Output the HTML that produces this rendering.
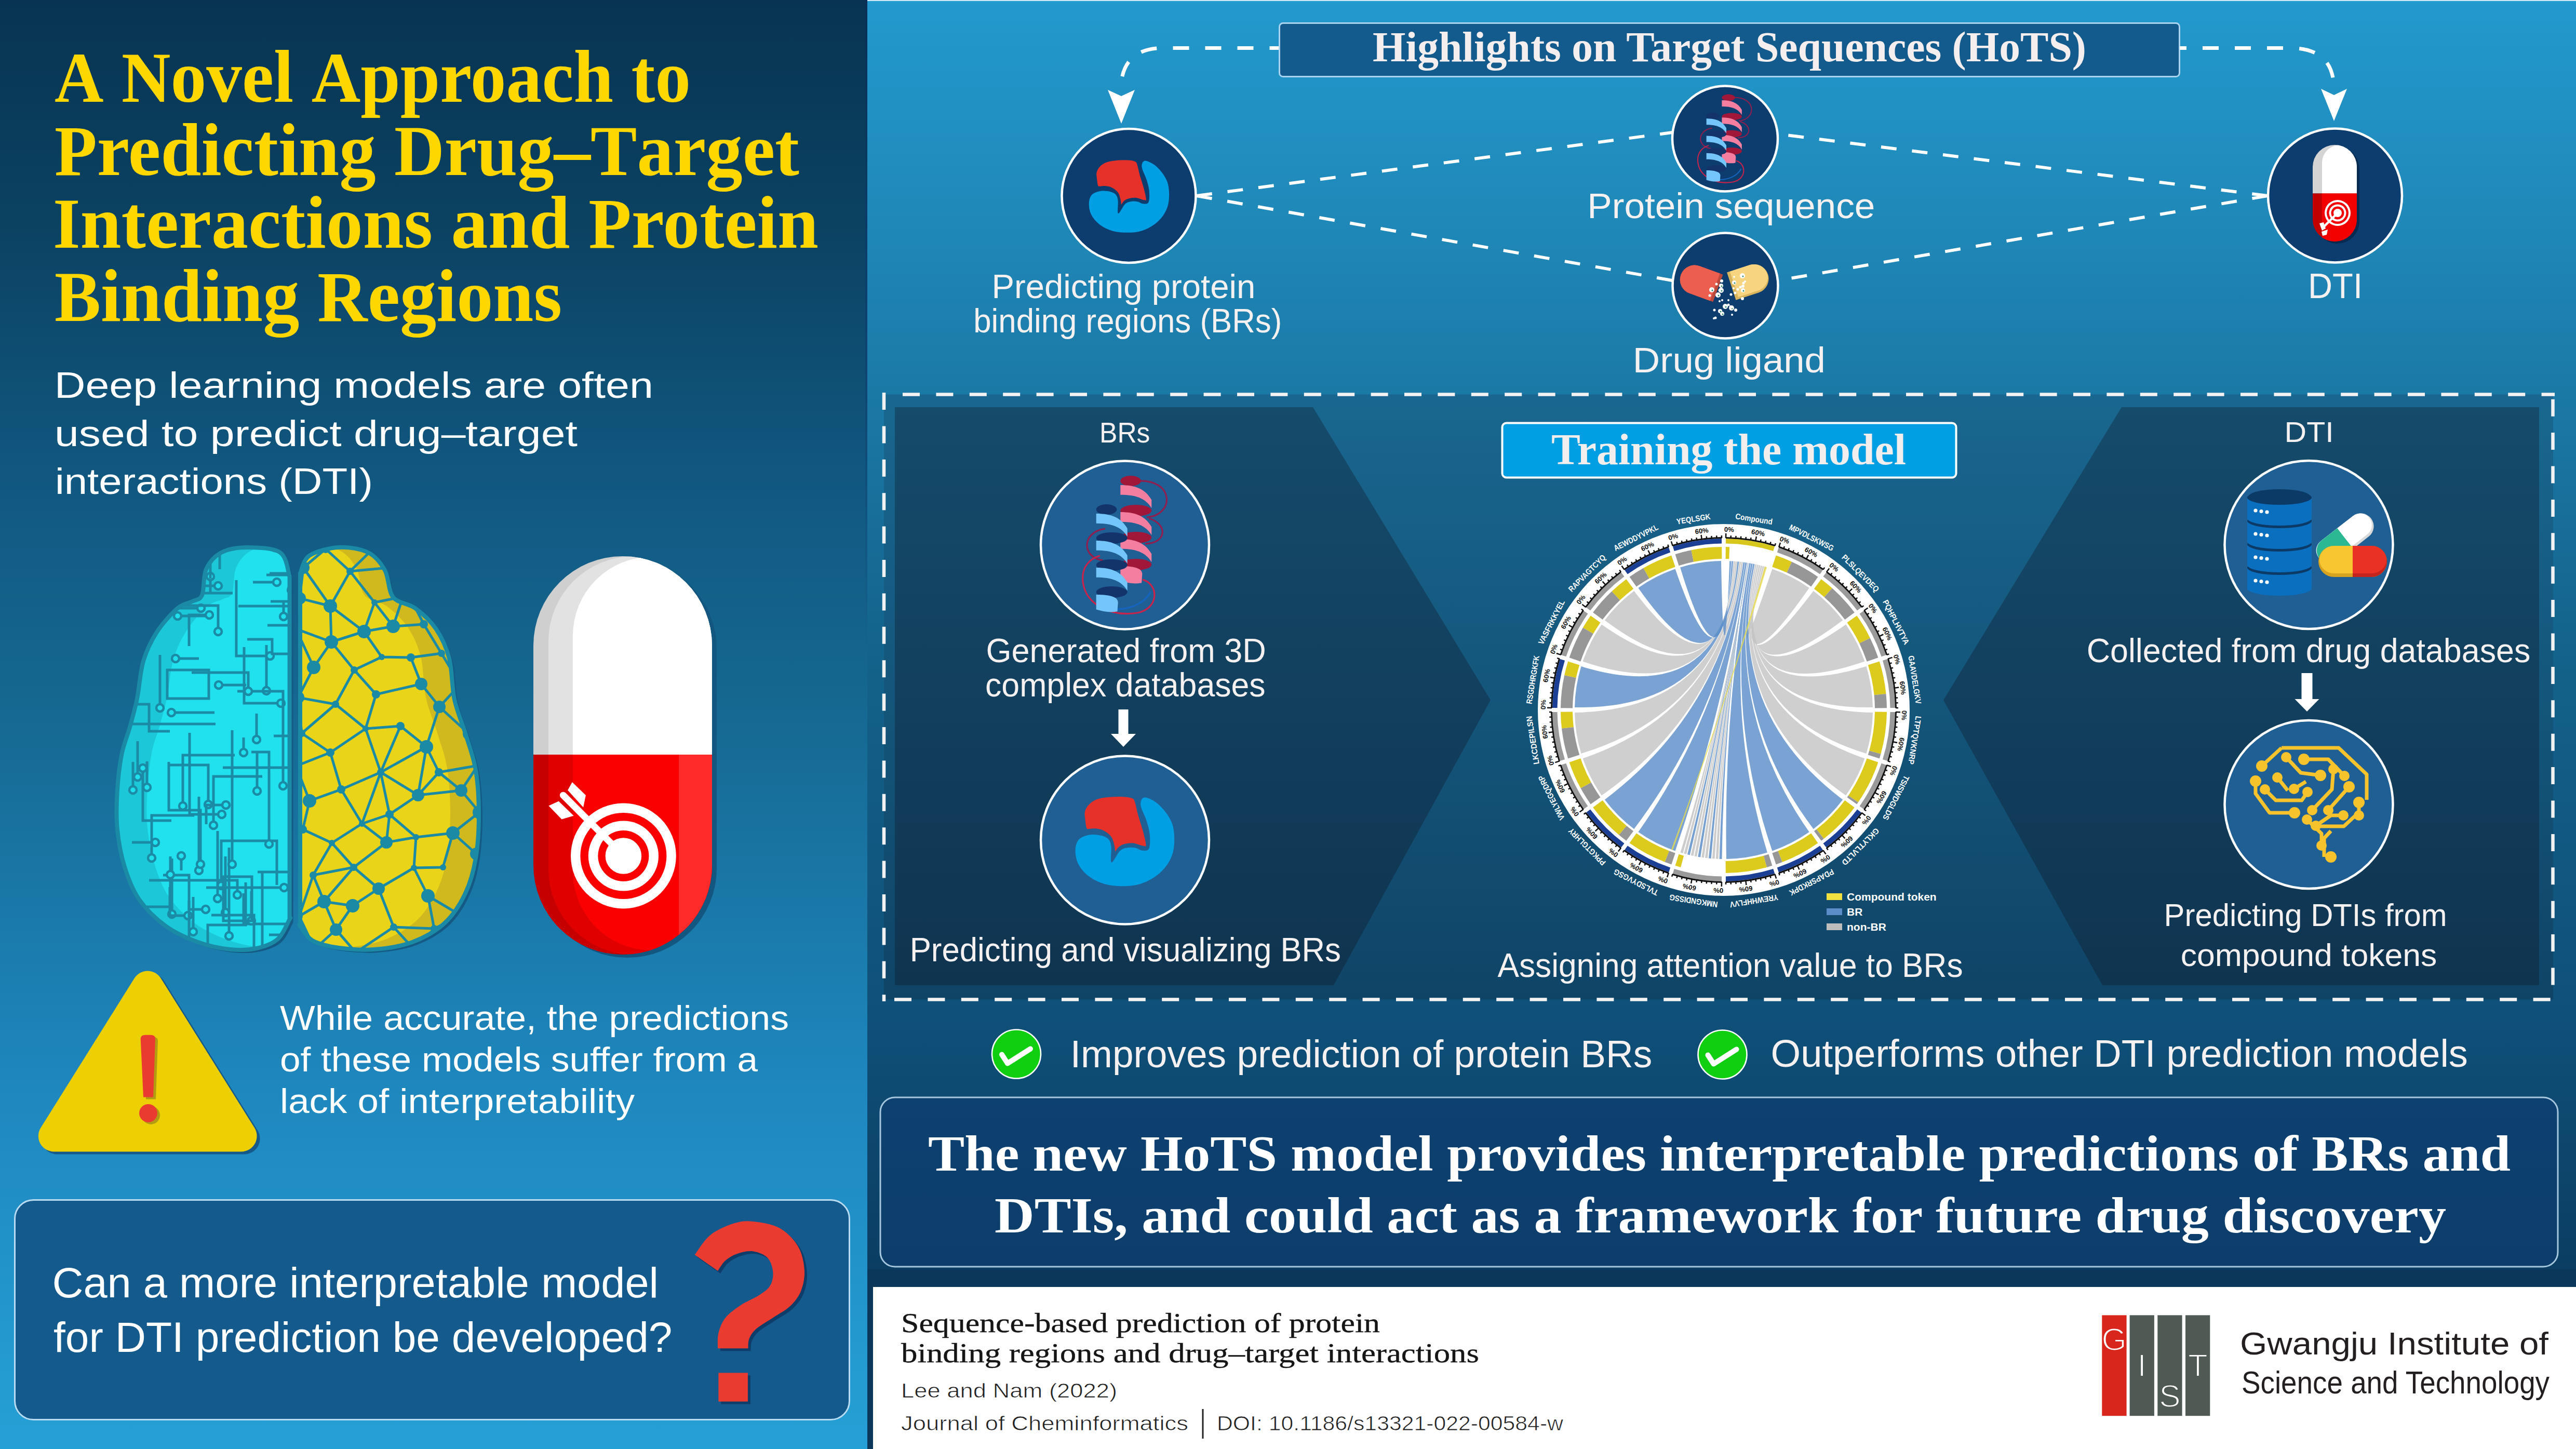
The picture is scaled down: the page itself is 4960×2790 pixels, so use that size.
<!DOCTYPE html>
<html><head><meta charset="utf-8"><title>HoTS infographic</title>
<style>html,body{margin:0;padding:0;background:#0a3454;}body{width:4960px;height:2790px;overflow:hidden}svg{display:block}</style>
</head><body>
<svg width="4960" height="2790" viewBox="0 0 4960 2790">
<defs>
<linearGradient id="gLeft" x1="0" y1="0" x2="0" y2="2790" gradientUnits="userSpaceOnUse">
 <stop offset="0" stop-color="#083452"/>
 <stop offset="0.154" stop-color="#0b4262"/>
 <stop offset="0.358" stop-color="#125b85"/>
 <stop offset="0.477" stop-color="#15678f"/>
 <stop offset="0.75" stop-color="#1e87be"/>
 <stop offset="1" stop-color="#25a0d6"/>
</linearGradient>
<linearGradient id="gStrip" x1="0" y1="0" x2="0" y2="2790" gradientUnits="userSpaceOnUse">
 <stop offset="0" stop-color="#0a2c58" stop-opacity="0.6"/>
 <stop offset="0.2" stop-color="#0c3a6c" stop-opacity="0.6"/>
 <stop offset="0.45" stop-color="#0c3a6c" stop-opacity="0"/>
 <stop offset="1" stop-color="#0c3a6c" stop-opacity="0"/>
</linearGradient>
<linearGradient id="gRight" x1="0" y1="0" x2="0" y2="2790" gradientUnits="userSpaceOnUse">
 <stop offset="0" stop-color="#2399cd"/>
 <stop offset="0.155" stop-color="#1f88b8"/>
 <stop offset="0.255" stop-color="#1c7ba9"/>
 <stop offset="0.466" stop-color="#136189"/>
 <stop offset="0.70" stop-color="#0f5079"/>
 <stop offset="0.88" stop-color="#0b3d62"/>
 <stop offset="1" stop-color="#0a3556"/>
</linearGradient>
<linearGradient id="gBox" x1="0" y1="756" x2="0" y2="1928" gradientUnits="userSpaceOnUse">
 <stop offset="0" stop-color="#196790"/>
 <stop offset="1" stop-color="#0f4466"/>
</linearGradient>
<linearGradient id="gChev" x1="0" y1="784" x2="0" y2="1898" gradientUnits="userSpaceOnUse">
 <stop offset="0" stop-color="#154b6b"/>
 <stop offset="1" stop-color="#0f3450"/>
</linearGradient>
<linearGradient id="gConc" x1="0" y1="2112" x2="0" y2="2440" gradientUnits="userSpaceOnUse">
 <stop offset="0" stop-color="#0d4171"/>
 <stop offset="1" stop-color="#0d3d6b"/>
</linearGradient>
</defs>
<rect x="0" y="0" width="1670" height="2790" fill="url(#gLeft)"/>
<rect x="1670" y="0" width="3290" height="2790" fill="url(#gRight)"/>
<rect x="1666" y="0" width="4" height="2790" fill="url(#gStrip)"/>
<rect x="1670" y="0" width="3290" height="2" fill="#cfe9f5"/>
<rect x="1670" y="2444" width="3290" height="346" fill="#0b385a"/>
<rect x="1681" y="2478" width="3279" height="312" fill="#ffffff"/>
<rect x="1702" y="759.5" width="3214" height="1165" fill="url(#gBox)"/>
<polygon points="1723,784 2528,784 2870,1348 2568,1897 1723,1897" fill="url(#gChev)"/>
<polygon points="4085,784 3742,1348 4048,1897 4889,1897 4889,784" fill="url(#gChev)"/>
<line x1="1738" y1="759.5" x2="4919" y2="759.5" stroke="#f2f2f2" stroke-width="6.5" stroke-dasharray="33 31.4"/>
<line x1="1702" y1="756" x2="1702" y2="1928" stroke="#f2f2f2" stroke-width="6.5" stroke-dasharray="33 31.4"/>
<line x1="4915.5" y1="768.7" x2="4915.5" y2="1928" stroke="#f2f2f2" stroke-width="6.5" stroke-dasharray="33 31.4"/>
<line x1="1722" y1="1924.5" x2="4919" y2="1924.5" stroke="#f2f2f2" stroke-width="6.5" stroke-dasharray="33 31.4"/>
<text x="105" y="196" font-family="'Liberation Serif', serif" font-size="144" font-weight="bold" fill="#ffd700" textLength="1225" lengthAdjust="spacingAndGlyphs"><tspan font-size="137">A</tspan> <tspan font-size="137">N</tspan>ovel <tspan font-size="137">A</tspan>pproach to</text>
<text x="105" y="337" font-family="'Liberation Serif', serif" font-size="144" font-weight="bold" fill="#ffd700" textLength="1434" lengthAdjust="spacingAndGlyphs"><tspan font-size="137">P</tspan>redicting <tspan font-size="137">D</tspan>rug–<tspan font-size="137">T</tspan>arget</text>
<text x="102" y="477" font-family="'Liberation Serif', serif" font-size="144" font-weight="bold" fill="#ffd700" textLength="1474" lengthAdjust="spacingAndGlyphs"><tspan font-size="137">I</tspan>nteractions and <tspan font-size="137">P</tspan>rotein</text>
<text x="105" y="618" font-family="'Liberation Serif', serif" font-size="144" font-weight="bold" fill="#ffd700" textLength="977" lengthAdjust="spacingAndGlyphs"><tspan font-size="137">B</tspan>inding <tspan font-size="137">R</tspan>egions</text>
<text x="104.7" y="766.0" font-family="'Liberation Sans', sans-serif" font-size="71" font-weight="normal" fill="#ffffff" text-anchor="start" textLength="1153.3" lengthAdjust="spacingAndGlyphs" >Deep learning models are often</text>
<text x="105.0" y="859.0" font-family="'Liberation Sans', sans-serif" font-size="71" font-weight="normal" fill="#ffffff" text-anchor="start" textLength="1007.0" lengthAdjust="spacingAndGlyphs" >used to predict drug–target</text>
<text x="106.0" y="951.0" font-family="'Liberation Sans', sans-serif" font-size="71" font-weight="normal" fill="#ffffff" text-anchor="start" textLength="612.0" lengthAdjust="spacingAndGlyphs" >interactions (DTI)</text>
<text x="539.0" y="1983.0" font-family="'Liberation Sans', sans-serif" font-size="67" font-weight="normal" fill="#ffffff" text-anchor="start" textLength="980.0" lengthAdjust="spacingAndGlyphs" >While accurate, the predictions</text>
<text x="539.0" y="2063.0" font-family="'Liberation Sans', sans-serif" font-size="67" font-weight="normal" fill="#ffffff" text-anchor="start" textLength="920.0" lengthAdjust="spacingAndGlyphs" >of these models suffer from a</text>
<text x="539.0" y="2143.0" font-family="'Liberation Sans', sans-serif" font-size="67" font-weight="normal" fill="#ffffff" text-anchor="start" textLength="683.0" lengthAdjust="spacingAndGlyphs" >lack of interpretability</text>
<rect x="28.5" y="2310.5" width="1607" height="423" rx="36" fill="#155a8d" stroke="#b9dcf2" stroke-width="3"/>
<text x="100.5" y="2498.0" font-family="'Liberation Sans', sans-serif" font-size="81" font-weight="normal" fill="#ffffff" text-anchor="start" textLength="1167.5" lengthAdjust="spacingAndGlyphs" >Can a more interpretable model</text>
<text x="103.0" y="2603.0" font-family="'Liberation Sans', sans-serif" font-size="81" font-weight="normal" fill="#ffffff" text-anchor="start" textLength="1191.5" lengthAdjust="spacingAndGlyphs" >for DTI prediction be developed?</text>
<rect x="2463.5" y="44.5" width="1733" height="103" rx="7" fill="#135b8d" stroke="#a9d3ee" stroke-width="3"/>
<text x="2643.0" y="118.0" font-family="'Liberation Serif', serif" font-size="82" font-weight="bold" fill="#f4eeee" text-anchor="start" textLength="1374.0" lengthAdjust="spacingAndGlyphs" >Highlights on Target Sequences (HoTS)</text>
<text x="1909.4" y="573.8" font-family="'Liberation Sans', sans-serif" font-size="64" font-weight="normal" fill="#f6f1f1" text-anchor="start" textLength="507.9" lengthAdjust="spacingAndGlyphs" >Predicting protein</text>
<text x="1874.2" y="640.4" font-family="'Liberation Sans', sans-serif" font-size="64" font-weight="normal" fill="#f6f1f1" text-anchor="start" textLength="594.1" lengthAdjust="spacingAndGlyphs" >binding regions (BRs)</text>
<text x="3056.2" y="420.0" font-family="'Liberation Sans', sans-serif" font-size="68" font-weight="normal" fill="#f6f1f1" text-anchor="start" textLength="554.2" lengthAdjust="spacingAndGlyphs" >Protein sequence</text>
<text x="3143.8" y="716.8" font-family="'Liberation Sans', sans-serif" font-size="69" font-weight="normal" fill="#f6f1f1" text-anchor="start" textLength="371.2" lengthAdjust="spacingAndGlyphs" >Drug ligand</text>
<text x="4444.0" y="574.0" font-family="'Liberation Sans', sans-serif" font-size="68" font-weight="normal" fill="#f6f1f1" text-anchor="start" textLength="105.0" lengthAdjust="spacingAndGlyphs" >DTI</text>
<text x="2117.0" y="852.0" font-family="'Liberation Sans', sans-serif" font-size="55" font-weight="normal" fill="#f6f1f1" text-anchor="start" textLength="97.4" lengthAdjust="spacingAndGlyphs" >BRs</text>
<text x="4398.6" y="851.2" font-family="'Liberation Sans', sans-serif" font-size="55" font-weight="normal" fill="#f6f1f1" text-anchor="start" textLength="95.1" lengthAdjust="spacingAndGlyphs" >DTI</text>
<text x="1898.4" y="1275.4" font-family="'Liberation Sans', sans-serif" font-size="65" font-weight="normal" fill="#f6f1f1" text-anchor="start" textLength="539.4" lengthAdjust="spacingAndGlyphs" >Generated from 3D</text>
<text x="1897.0" y="1340.7" font-family="'Liberation Sans', sans-serif" font-size="65" font-weight="normal" fill="#f6f1f1" text-anchor="start" textLength="539.7" lengthAdjust="spacingAndGlyphs" >complex databases</text>
<text x="1751.7" y="1850.7" font-family="'Liberation Sans', sans-serif" font-size="64" font-weight="normal" fill="#f6f1f1" text-anchor="start" textLength="830.3" lengthAdjust="spacingAndGlyphs" >Predicting and visualizing BRs</text>
<text x="2883.4" y="1880.7" font-family="'Liberation Sans', sans-serif" font-size="64" font-weight="normal" fill="#f6f1f1" text-anchor="start" textLength="896.3" lengthAdjust="spacingAndGlyphs" >Assigning attention value to BRs</text>
<text x="4017.7" y="1274.7" font-family="'Liberation Sans', sans-serif" font-size="64" font-weight="normal" fill="#f6f1f1" text-anchor="start" textLength="854.6" lengthAdjust="spacingAndGlyphs" >Collected from drug databases</text>
<text x="4166.6" y="1782.8" font-family="'Liberation Sans', sans-serif" font-size="62" font-weight="normal" fill="#f6f1f1" text-anchor="start" textLength="545.0" lengthAdjust="spacingAndGlyphs" >Predicting DTIs from</text>
<text x="4198.7" y="1859.8" font-family="'Liberation Sans', sans-serif" font-size="62" font-weight="normal" fill="#f6f1f1" text-anchor="start" textLength="493.7" lengthAdjust="spacingAndGlyphs" >compound tokens</text>
<text x="2060.8" y="2055.0" font-family="'Liberation Sans', sans-serif" font-size="75" font-weight="normal" fill="#f6f1f1" text-anchor="start" textLength="1120.4" lengthAdjust="spacingAndGlyphs" >Improves prediction of protein BRs</text>
<text x="3409.6" y="2054.0" font-family="'Liberation Sans', sans-serif" font-size="75" font-weight="normal" fill="#f6f1f1" text-anchor="start" textLength="1342.3" lengthAdjust="spacingAndGlyphs" >Outperforms other DTI prediction models</text>
<rect x="2892.5" y="814.5" width="874" height="105" rx="8" fill="#009fe3" stroke="#ffffff" stroke-width="4"/>
<text x="2987.0" y="893.6" font-family="'Liberation Serif', serif" font-size="84" font-weight="bold" fill="#f3eeee" text-anchor="start" textLength="683.0" lengthAdjust="spacingAndGlyphs" >Training the model</text>
<rect x="1695" y="2113" width="3230" height="326" rx="28" fill="url(#gConc)" stroke="#a6c6dd" stroke-width="3"/>
<text x="1787.0" y="2254.0" font-family="'Liberation Serif', serif" font-size="98" font-weight="bold" fill="#ffffff" text-anchor="start" textLength="3047.0" lengthAdjust="spacingAndGlyphs" >The new HoTS model provides interpretable predictions of BRs and</text>
<text x="1915.0" y="2373.0" font-family="'Liberation Serif', serif" font-size="98" font-weight="bold" fill="#ffffff" text-anchor="start" textLength="2795.0" lengthAdjust="spacingAndGlyphs" >DTIs, and could act as a framework for future drug discovery</text>
<text x="1735.0" y="2565.0" font-family="'Liberation Serif', serif" font-size="53" font-weight="normal" fill="#161616" text-anchor="start" textLength="922.0" lengthAdjust="spacingAndGlyphs" stroke="#161616" stroke-width="0.4">Sequence-based prediction of protein</text>
<text x="1735.0" y="2623.4" font-family="'Liberation Serif', serif" font-size="53" font-weight="normal" fill="#161616" text-anchor="start" textLength="1113.0" lengthAdjust="spacingAndGlyphs" stroke="#161616" stroke-width="0.4">binding regions and drug–target interactions</text>
<text x="1735.0" y="2691.0" font-family="'Liberation Sans', sans-serif" font-size="38" font-weight="normal" fill="#1e1e1e" text-anchor="start" textLength="416.0" lengthAdjust="spacingAndGlyphs" stroke="#ffffff" stroke-width="0.7">Lee and Nam (2022)</text>
<text x="1735.0" y="2754.0" font-family="'Liberation Sans', sans-serif" font-size="38" font-weight="normal" fill="#1e1e1e" text-anchor="start" textLength="553.0" lengthAdjust="spacingAndGlyphs" stroke="#ffffff" stroke-width="0.7">Journal of Cheminformatics</text>
<rect x="2314.5" y="2713" width="3" height="57" fill="#222"/>
<text x="2343.0" y="2754.0" font-family="'Liberation Sans', sans-serif" font-size="38" font-weight="normal" fill="#1e1e1e" text-anchor="start" textLength="667.0" lengthAdjust="spacingAndGlyphs" stroke="#ffffff" stroke-width="0.7">DOI: 10.1186/s13321-022-00584-w</text>
<rect x="4047.3" y="2532.4" width="47.3" height="193.8" fill="#d9261c"/>
<rect x="4100.6" y="2532.4" width="47.3" height="193.8" fill="#4e5a53"/>
<rect x="4154.3" y="2532.4" width="47.3" height="193.8" fill="#4e5a53"/>
<rect x="4208" y="2532.4" width="47.3" height="193.8" fill="#4e5a53"/>
<text x="4070.6" y="2600.0" font-family="'Liberation Sans', sans-serif" font-size="62" font-weight="normal" fill="#fff" text-anchor="middle" stroke="#d9261c" stroke-width="2">G</text>
<text x="4124.0" y="2650.0" font-family="'Liberation Sans', sans-serif" font-size="62" font-weight="normal" fill="#fff" text-anchor="middle" stroke="#4e5a53" stroke-width="2">I</text>
<text x="4178.0" y="2709.0" font-family="'Liberation Sans', sans-serif" font-size="62" font-weight="normal" fill="#fff" text-anchor="middle" stroke="#4e5a53" stroke-width="2">S</text>
<text x="4232.0" y="2650.0" font-family="'Liberation Sans', sans-serif" font-size="62" font-weight="normal" fill="#fff" text-anchor="middle" stroke="#4e5a53" stroke-width="2">T</text>
<text x="4313.0" y="2608.0" font-family="'Liberation Sans', sans-serif" font-size="62" font-weight="normal" fill="#231f20" text-anchor="start" textLength="594.0" lengthAdjust="spacingAndGlyphs" >Gwangju Institute of</text>
<text x="4316.0" y="2682.6" font-family="'Liberation Sans', sans-serif" font-size="62" font-weight="normal" fill="#231f20" text-anchor="start" textLength="593.0" lengthAdjust="spacingAndGlyphs" >Science and Technology</text>
<path d="M2462,92.5 H2240 Q2158,92.5 2158,175" stroke="#ffffff" stroke-width="7" fill="none" stroke-dasharray="31 31" stroke-dashoffset="13.5"/>
<path d="M4197,92.5 H4410 Q4494,92.5 4494,172" stroke="#ffffff" stroke-width="7" fill="none" stroke-dasharray="31 31" stroke-dashoffset="18"/>
<polygon points="2133,173 2159,185 2185,173 2159,238" fill="#fff"/>
<polygon points="4469,171 4494,183 4519,171 4494,233" fill="#fff"/>
<line x1="2304" y1="377" x2="3220" y2="255" stroke="#ffffff" stroke-width="6" fill="none" stroke-dasharray="30 30"/>
<line x1="2304" y1="377" x2="3220" y2="540" stroke="#ffffff" stroke-width="6" fill="none" stroke-dasharray="30 30"/>
<line x1="4366" y1="377" x2="3424" y2="258" stroke="#ffffff" stroke-width="6" fill="none" stroke-dasharray="30 30"/>
<line x1="4366" y1="377" x2="3424" y2="540" stroke="#ffffff" stroke-width="6" fill="none" stroke-dasharray="30 30"/>
<circle cx="2173.5" cy="377" r="129" fill="#0d3d6e" stroke="#ffffff" stroke-width="4.5"/>
<circle cx="3321.5" cy="267" r="101.5" fill="#0d3d6e" stroke="#ffffff" stroke-width="4.5"/>
<circle cx="3322" cy="550" r="101.5" fill="#0d3d6e" stroke="#ffffff" stroke-width="4.5"/>
<circle cx="4496" cy="376.5" r="129" fill="#0d3d6e" stroke="#ffffff" stroke-width="4.5"/>
<circle cx="2166" cy="1049.5" r="162" fill="#1f5f94" stroke="#ffffff" stroke-width="4.5"/>
<circle cx="2166" cy="1617.5" r="162" fill="#1f5f94" stroke="#ffffff" stroke-width="4.5"/>
<circle cx="4445.5" cy="1049" r="162" fill="#1f5f94" stroke="#ffffff" stroke-width="4.5"/>
<circle cx="4445.5" cy="1549" r="162" fill="#1f5f94" stroke="#ffffff" stroke-width="4.5"/>
<polygon points="2153.5,1366 2172.5,1366 2172.5,1413 2187.0,1413 2163,1438 2139.0,1413 2153.5,1413" fill="#ffffff"/>
<polygon points="4431.5,1296 4452.5,1296 4452.5,1346 4465.5,1346 4442,1370 4418.5,1346 4431.5,1346" fill="#ffffff"/>
<circle cx="1957" cy="2029.5" r="47" fill="#10cf10" stroke="#ffffff" stroke-width="2.6"/>
<path d="M1929,2030.5 L1940,2047.5 L1984,2019.5" stroke="#ffffff" stroke-width="10" fill="none" stroke-linecap="round" stroke-linejoin="round"/>
<circle cx="3316.5" cy="2030.5" r="47" fill="#10cf10" stroke="#ffffff" stroke-width="2.6"/>
<path d="M3288.5,2031.5 L3299.5,2048.5 L3343.5,2020.5" stroke="#ffffff" stroke-width="10" fill="none" stroke-linecap="round" stroke-linejoin="round"/>
<rect x="1036" y="1077" width="344" height="767" rx="172.0" fill="#135780"/>
<clipPath id="pillclip"><rect x="1027" y="1071" width="344" height="767" rx="172.0"/></clipPath>
<clipPath id="ptop"><rect x="1017" y="1061" width="364" height="392"/></clipPath>
<clipPath id="pbot"><rect x="1017" y="1453" width="364" height="395"/></clipPath>
<g clip-path="url(#pillclip)"><g clip-path="url(#ptop)">
<rect x="1027" y="1071" width="344" height="767" fill="#cfcfcf"/>
<rect x="1056" y="1071" width="384" height="767" rx="164.0" fill="#e2e2e2"/>
<rect x="1103" y="1072" width="384" height="767" rx="152.0" fill="#ffffff"/>
</g><g clip-path="url(#pbot)">
<rect x="1027" y="1453" width="344" height="385" fill="#c60000"/>
<rect x="1056" y="1053" width="384" height="785" rx="164.0" fill="#e00000"/>
<rect x="1103" y="1053" width="384" height="777" rx="152.0" fill="#fb0000"/>
<rect x="1307" y="1453" width="64" height="385" fill="#ff2b2b"/>
</g></g>
<circle cx="1200.4" cy="1648" r="101.4" fill="#fff"/>
<circle cx="1200.4" cy="1648" r="83" fill="#fb0000"/>
<circle cx="1200.4" cy="1648" r="67.6" fill="#fff"/>
<circle cx="1200.4" cy="1648" r="49" fill="#fb0000"/>
<circle cx="1200.4" cy="1648" r="34.8" fill="#fff"/>
<line x1="1180" y1="1627" x2="1084.4" y2="1531.2" stroke="#ffffff" stroke-width="13" stroke-linecap="round"/>
<polygon points="1093.1,1521.5 1101.8,1506.1 1127.9,1531.2 1123.1,1554.4" fill="#ffffff"/>
<polygon points="1056.4,1551.5 1075.7,1542.8 1104.7,1570.8 1081.5,1577.6" fill="#ffffff"/>
<path d="M315.6,1888.6 A30,30 0 0 0 264.8,1888.6 L84.4,2176.5 A30,30 0 0 0 109.8,2222.4 L470.6,2222.4 A30,30 0 0 0 496.0,2176.5 Z" fill="#15598a"/>
<path d="M309.6,1883.6 A30,30 0 0 0 258.8,1883.6 L78.4,2171.5 A30,30 0 0 0 103.8,2217.4 L464.6,2217.4 A30,30 0 0 0 490.0,2171.5 Z" fill="#ecd003"/>
<path d="M270.7,2000 Q271,1992.7 280,1992.7 L290,1992.7 Q299,1992.7 299,2000 L295,2112.4 L276,2112.4 Z" fill="#b39b12" transform="translate(5,4)"/>
<circle cx="290.5" cy="2147.4" r="17.5" fill="#b39b12"/>
<path d="M270.7,2000 Q271,1992.7 280,1992.7 L290,1992.7 Q299,1992.7 299,2000 L295,2112.4 L276,2112.4 Z" fill="#ea3b30"/>
<circle cx="285.5" cy="2143.4" r="17.5" fill="#ea3b30"/>
<path d="M1337.7,2416.1 C1342.6,2409.8 1354.8,2388.5 1367.3,2378.4 C1379.8,2368.3 1399.1,2360.0 1413.0,2355.6 C1426.9,2351.2 1435.9,2350.4 1450.7,2352.0 C1465.5,2353.6 1487.5,2357.0 1501.8,2365.0 C1516.1,2373.0 1528.8,2386.6 1536.7,2400.0 C1544.6,2413.4 1548.0,2431.4 1548.9,2445.7 C1549.8,2460.0 1546.8,2474.3 1542.1,2486.0 C1537.4,2497.7 1529.6,2507.1 1520.6,2515.6 C1511.6,2524.1 1499.1,2530.0 1488.3,2537.2 C1477.5,2544.4 1463.6,2552.0 1456.0,2558.7 C1448.4,2565.4 1445.2,2571.2 1442.6,2577.5 C1440.0,2583.8 1440.8,2593.2 1440.5,2596.3 L1382,2596.3 C1382.2,2591.4 1380.9,2576.5 1383.4,2566.7 C1385.9,2556.8 1389.7,2546.1 1396.9,2537.2 C1404.1,2528.2 1415.7,2520.2 1426.4,2513.0 C1437.2,2505.8 1452.0,2500.4 1461.4,2494.1 C1470.8,2487.8 1478.5,2482.9 1483.0,2475.3 C1487.5,2467.7 1489.2,2457.4 1488.3,2448.4 C1487.4,2439.4 1483.9,2428.0 1477.6,2421.5 C1471.3,2415.0 1460.1,2410.8 1450.7,2409.4 C1441.3,2408.1 1430.0,2410.5 1421.0,2413.4 C1412.0,2416.3 1403.4,2421.3 1396.9,2426.9 C1390.4,2432.5 1384.5,2443.7 1382.0,2447.0 Z" fill="#0f3d6a" transform="translate(5,5)"/>
<rect x="1388.4" y="2648.4" width="56.5" height="55.2" fill="#0f3d6a"/>
<path d="M1337.7,2416.1 C1342.6,2409.8 1354.8,2388.5 1367.3,2378.4 C1379.8,2368.3 1399.1,2360.0 1413.0,2355.6 C1426.9,2351.2 1435.9,2350.4 1450.7,2352.0 C1465.5,2353.6 1487.5,2357.0 1501.8,2365.0 C1516.1,2373.0 1528.8,2386.6 1536.7,2400.0 C1544.6,2413.4 1548.0,2431.4 1548.9,2445.7 C1549.8,2460.0 1546.8,2474.3 1542.1,2486.0 C1537.4,2497.7 1529.6,2507.1 1520.6,2515.6 C1511.6,2524.1 1499.1,2530.0 1488.3,2537.2 C1477.5,2544.4 1463.6,2552.0 1456.0,2558.7 C1448.4,2565.4 1445.2,2571.2 1442.6,2577.5 C1440.0,2583.8 1440.8,2593.2 1440.5,2596.3 L1382,2596.3 C1382.2,2591.4 1380.9,2576.5 1383.4,2566.7 C1385.9,2556.8 1389.7,2546.1 1396.9,2537.2 C1404.1,2528.2 1415.7,2520.2 1426.4,2513.0 C1437.2,2505.8 1452.0,2500.4 1461.4,2494.1 C1470.8,2487.8 1478.5,2482.9 1483.0,2475.3 C1487.5,2467.7 1489.2,2457.4 1488.3,2448.4 C1487.4,2439.4 1483.9,2428.0 1477.6,2421.5 C1471.3,2415.0 1460.1,2410.8 1450.7,2409.4 C1441.3,2408.1 1430.0,2410.5 1421.0,2413.4 C1412.0,2416.3 1403.4,2421.3 1396.9,2426.9 C1390.4,2432.5 1384.5,2443.7 1382.0,2447.0 Z" fill="#ea3b30"/>
<rect x="1383.4" y="2643.4" width="56.5" height="55.2" fill="#ea3b30"/>
<clipPath id="clipL"><path d="M557.6,1110.0 C554.6,1102.3 552.9,1073.3 539.5,1064.0 C526.1,1054.7 495.9,1054.0 477.0,1054.0 C458.1,1054.0 439.3,1057.0 426.0,1064.0 C412.7,1071.0 403.2,1082.3 397.0,1096.0 C390.8,1109.7 393.5,1135.7 389.0,1146.0 C384.5,1156.3 377.9,1153.8 370.0,1158.0 C362.1,1162.2 352.8,1161.7 341.5,1171.5 C330.2,1181.3 312.9,1200.1 302.0,1217.0 C291.1,1233.9 282.3,1251.7 276.0,1273.0 C269.7,1294.3 268.3,1323.8 264.0,1345.0 C259.7,1366.2 255.0,1381.8 250.0,1400.0 C245.0,1418.2 238.1,1432.7 234.0,1454.0 C229.9,1475.3 226.8,1504.0 225.5,1528.0 C224.2,1552.0 223.6,1574.4 226.0,1598.0 C228.4,1621.6 233.0,1647.2 240.0,1669.5 C247.0,1691.8 254.8,1713.1 268.0,1732.0 C281.2,1750.9 300.2,1769.3 319.0,1783.0 C337.8,1796.7 360.3,1806.5 381.0,1814.0 C401.7,1821.5 424.2,1826.0 443.0,1828.0 C461.8,1830.0 478.7,1829.3 494.0,1826.0 C509.3,1822.7 524.4,1817.3 535.0,1808.0 C545.6,1798.7 553.8,1776.3 557.6,1770.0 C561.4,1763.7 557.6,1770.0 557.6,1770.0  Z"/></clipPath><clipPath id="clipR"><path d="M578.0,1783.0 C578.0,1783.0 574.0,1778.0 578.0,1782.7 C582.0,1787.4 589.3,1804.0 601.8,1811.0 C614.2,1818.0 632.9,1822.2 652.7,1825.0 C672.5,1827.8 697.1,1829.8 720.6,1828.0 C744.1,1826.2 771.4,1822.5 794.0,1814.0 C816.6,1805.5 839.5,1792.7 856.5,1777.0 C873.5,1761.3 886.1,1740.8 896.0,1720.0 C905.9,1699.2 911.7,1677.9 916.0,1652.5 C920.3,1627.1 922.0,1595.8 922.0,1567.6 C922.0,1539.3 920.2,1508.4 916.0,1483.0 C911.8,1457.6 903.8,1437.7 897.0,1415.0 C890.2,1392.3 880.3,1371.5 875.0,1347.0 C869.7,1322.5 870.9,1290.4 865.0,1267.7 C859.1,1245.0 850.3,1227.0 839.5,1211.0 C828.7,1195.0 813.8,1181.7 800.0,1171.5 C786.2,1161.3 766.8,1162.2 757.0,1150.0 C747.2,1137.8 749.0,1112.3 741.0,1098.0 C733.0,1083.7 723.7,1071.3 709.0,1064.0 C694.3,1056.7 671.5,1053.1 652.7,1054.0 C633.9,1054.9 608.5,1061.3 596.0,1069.6 C583.5,1077.9 581.0,1098.3 578.0,1104.0  Z"/></clipPath>
<path d="M557.6,1110.0 C554.6,1102.3 552.9,1073.3 539.5,1064.0 C526.1,1054.7 495.9,1054.0 477.0,1054.0 C458.1,1054.0 439.3,1057.0 426.0,1064.0 C412.7,1071.0 403.2,1082.3 397.0,1096.0 C390.8,1109.7 393.5,1135.7 389.0,1146.0 C384.5,1156.3 377.9,1153.8 370.0,1158.0 C362.1,1162.2 352.8,1161.7 341.5,1171.5 C330.2,1181.3 312.9,1200.1 302.0,1217.0 C291.1,1233.9 282.3,1251.7 276.0,1273.0 C269.7,1294.3 268.3,1323.8 264.0,1345.0 C259.7,1366.2 255.0,1381.8 250.0,1400.0 C245.0,1418.2 238.1,1432.7 234.0,1454.0 C229.9,1475.3 226.8,1504.0 225.5,1528.0 C224.2,1552.0 223.6,1574.4 226.0,1598.0 C228.4,1621.6 233.0,1647.2 240.0,1669.5 C247.0,1691.8 254.8,1713.1 268.0,1732.0 C281.2,1750.9 300.2,1769.3 319.0,1783.0 C337.8,1796.7 360.3,1806.5 381.0,1814.0 C401.7,1821.5 424.2,1826.0 443.0,1828.0 C461.8,1830.0 478.7,1829.3 494.0,1826.0 C509.3,1822.7 524.4,1817.3 535.0,1808.0 C545.6,1798.7 553.8,1776.3 557.6,1770.0 C561.4,1763.7 557.6,1770.0 557.6,1770.0  Z" fill="#145a85" transform="translate(7,6)"/>
<path d="M578.0,1783.0 C578.0,1783.0 574.0,1778.0 578.0,1782.7 C582.0,1787.4 589.3,1804.0 601.8,1811.0 C614.2,1818.0 632.9,1822.2 652.7,1825.0 C672.5,1827.8 697.1,1829.8 720.6,1828.0 C744.1,1826.2 771.4,1822.5 794.0,1814.0 C816.6,1805.5 839.5,1792.7 856.5,1777.0 C873.5,1761.3 886.1,1740.8 896.0,1720.0 C905.9,1699.2 911.7,1677.9 916.0,1652.5 C920.3,1627.1 922.0,1595.8 922.0,1567.6 C922.0,1539.3 920.2,1508.4 916.0,1483.0 C911.8,1457.6 903.8,1437.7 897.0,1415.0 C890.2,1392.3 880.3,1371.5 875.0,1347.0 C869.7,1322.5 870.9,1290.4 865.0,1267.7 C859.1,1245.0 850.3,1227.0 839.5,1211.0 C828.7,1195.0 813.8,1181.7 800.0,1171.5 C786.2,1161.3 766.8,1162.2 757.0,1150.0 C747.2,1137.8 749.0,1112.3 741.0,1098.0 C733.0,1083.7 723.7,1071.3 709.0,1064.0 C694.3,1056.7 671.5,1053.1 652.7,1054.0 C633.9,1054.9 608.5,1061.3 596.0,1069.6 C583.5,1077.9 581.0,1098.3 578.0,1104.0  Z" fill="#145a85" transform="translate(7,6)"/>
<path d="M557.6,1110.0 C554.6,1102.3 552.9,1073.3 539.5,1064.0 C526.1,1054.7 495.9,1054.0 477.0,1054.0 C458.1,1054.0 439.3,1057.0 426.0,1064.0 C412.7,1071.0 403.2,1082.3 397.0,1096.0 C390.8,1109.7 393.5,1135.7 389.0,1146.0 C384.5,1156.3 377.9,1153.8 370.0,1158.0 C362.1,1162.2 352.8,1161.7 341.5,1171.5 C330.2,1181.3 312.9,1200.1 302.0,1217.0 C291.1,1233.9 282.3,1251.7 276.0,1273.0 C269.7,1294.3 268.3,1323.8 264.0,1345.0 C259.7,1366.2 255.0,1381.8 250.0,1400.0 C245.0,1418.2 238.1,1432.7 234.0,1454.0 C229.9,1475.3 226.8,1504.0 225.5,1528.0 C224.2,1552.0 223.6,1574.4 226.0,1598.0 C228.4,1621.6 233.0,1647.2 240.0,1669.5 C247.0,1691.8 254.8,1713.1 268.0,1732.0 C281.2,1750.9 300.2,1769.3 319.0,1783.0 C337.8,1796.7 360.3,1806.5 381.0,1814.0 C401.7,1821.5 424.2,1826.0 443.0,1828.0 C461.8,1830.0 478.7,1829.3 494.0,1826.0 C509.3,1822.7 524.4,1817.3 535.0,1808.0 C545.6,1798.7 553.8,1776.3 557.6,1770.0 C561.4,1763.7 557.6,1770.0 557.6,1770.0  Z" fill="#21e0ee"/>
<g clip-path="url(#clipL)">
<rect x="200" y="1040" width="370" height="800" fill="#1cc8d8"/>
<path d="M557.6,1110.0 C554.6,1102.3 552.9,1073.3 539.5,1064.0 C526.1,1054.7 495.9,1054.0 477.0,1054.0 C458.1,1054.0 439.3,1057.0 426.0,1064.0 C412.7,1071.0 403.2,1082.3 397.0,1096.0 C390.8,1109.7 393.5,1135.7 389.0,1146.0 C384.5,1156.3 377.9,1153.8 370.0,1158.0 C362.1,1162.2 352.8,1161.7 341.5,1171.5 C330.2,1181.3 312.9,1200.1 302.0,1217.0 C291.1,1233.9 282.3,1251.7 276.0,1273.0 C269.7,1294.3 268.3,1323.8 264.0,1345.0 C259.7,1366.2 255.0,1381.8 250.0,1400.0 C245.0,1418.2 238.1,1432.7 234.0,1454.0 C229.9,1475.3 226.8,1504.0 225.5,1528.0 C224.2,1552.0 223.6,1574.4 226.0,1598.0 C228.4,1621.6 233.0,1647.2 240.0,1669.5 C247.0,1691.8 254.8,1713.1 268.0,1732.0 C281.2,1750.9 300.2,1769.3 319.0,1783.0 C337.8,1796.7 360.3,1806.5 381.0,1814.0 C401.7,1821.5 424.2,1826.0 443.0,1828.0 C461.8,1830.0 478.7,1829.3 494.0,1826.0 C509.3,1822.7 524.4,1817.3 535.0,1808.0 C545.6,1798.7 553.8,1776.3 557.6,1770.0 C561.4,1763.7 557.6,1770.0 557.6,1770.0  Z" fill="#21e1ef" transform="translate(58,-4)"/>
<path d="M323,1473 L401,1473 L401,1549" stroke="#1a8aa5" stroke-width="5" fill="none"/>
<circle cx="401" cy="1549" r="7" fill="#21e0ee" stroke="#1a8aa5" stroke-width="4.5"/>
<path d="M527,1417 L568,1417 L639,1417 L698,1417" stroke="#1a8aa5" stroke-width="5" fill="none"/>
<circle cx="698" cy="1417" r="7" fill="#21e0ee" stroke="#1a8aa5" stroke-width="4.5"/>
<path d="M513,1242 L513,1330" stroke="#1a8aa5" stroke-width="5" fill="none"/>
<circle cx="513" cy="1330" r="7" fill="#21e0ee" stroke="#1a8aa5" stroke-width="4.5"/>
<path d="M455,1117 L455,1168 L455,1263 L520,1263" stroke="#1a8aa5" stroke-width="5" fill="none"/>
<circle cx="520" cy="1263" r="7" fill="#21e0ee" stroke="#1a8aa5" stroke-width="4.5"/>
<path d="M469,1720 L469,1779 L576,1779 L576,1679" stroke="#1a8aa5" stroke-width="5" fill="none"/>
<circle cx="576" cy="1679" r="7" fill="#21e0ee" stroke="#1a8aa5" stroke-width="4.5"/>
<path d="M280,1171 L387,1171" stroke="#1a8aa5" stroke-width="5" fill="none"/>
<circle cx="387" cy="1171" r="7" fill="#21e0ee" stroke="#1a8aa5" stroke-width="4.5"/>
<path d="M383,1534 L383,1602 L383,1676" stroke="#1a8aa5" stroke-width="5" fill="none"/>
<circle cx="383" cy="1676" r="7" fill="#21e0ee" stroke="#1a8aa5" stroke-width="4.5"/>
<path d="M413,1372 L330,1372" stroke="#1a8aa5" stroke-width="5" fill="none"/>
<circle cx="330" cy="1372" r="7" fill="#21e0ee" stroke="#1a8aa5" stroke-width="4.5"/>
<path d="M533,1704 L533,1619 L426,1619 L426,1705" stroke="#1a8aa5" stroke-width="5" fill="none"/>
<circle cx="426" cy="1705" r="7" fill="#21e0ee" stroke="#1a8aa5" stroke-width="4.5"/>
<path d="M314,1685 L364,1685 L364,1751 L396,1751" stroke="#1a8aa5" stroke-width="5" fill="none"/>
<circle cx="396" cy="1751" r="7" fill="#21e0ee" stroke="#1a8aa5" stroke-width="4.5"/>
<path d="M494,1374 L494,1424" stroke="#1a8aa5" stroke-width="5" fill="none"/>
<circle cx="494" cy="1424" r="7" fill="#21e0ee" stroke="#1a8aa5" stroke-width="4.5"/>
<path d="M484,1716 L484,1773" stroke="#1a8aa5" stroke-width="5" fill="none"/>
<circle cx="484" cy="1773" r="7" fill="#21e0ee" stroke="#1a8aa5" stroke-width="4.5"/>
<path d="M429,1478 L539,1478 L564,1478" stroke="#1a8aa5" stroke-width="5" fill="none"/>
<circle cx="564" cy="1478" r="7" fill="#21e0ee" stroke="#1a8aa5" stroke-width="4.5"/>
<path d="M283,1466 L283,1516" stroke="#1a8aa5" stroke-width="5" fill="none"/>
<circle cx="283" cy="1516" r="7" fill="#21e0ee" stroke="#1a8aa5" stroke-width="4.5"/>
<path d="M330,1580 L275,1580 L275,1479" stroke="#1a8aa5" stroke-width="5" fill="none"/>
<circle cx="275" cy="1479" r="7" fill="#21e0ee" stroke="#1a8aa5" stroke-width="4.5"/>
<path d="M365,1411 L365,1490 L365,1568 L427,1568" stroke="#1a8aa5" stroke-width="5" fill="none"/>
<circle cx="427" cy="1568" r="7" fill="#21e0ee" stroke="#1a8aa5" stroke-width="4.5"/>
<path d="M470,1246 L470,1354 L541,1354" stroke="#1a8aa5" stroke-width="5" fill="none"/>
<circle cx="541" cy="1354" r="7" fill="#21e0ee" stroke="#1a8aa5" stroke-width="4.5"/>
<path d="M253,1377 L227,1377 L227,1347 L162,1347" stroke="#1a8aa5" stroke-width="5" fill="none"/>
<circle cx="162" cy="1347" r="7" fill="#21e0ee" stroke="#1a8aa5" stroke-width="4.5"/>
<path d="M457,1331 L545,1331 L545,1406 L545,1513" stroke="#1a8aa5" stroke-width="5" fill="none"/>
<circle cx="545" cy="1513" r="7" fill="#21e0ee" stroke="#1a8aa5" stroke-width="4.5"/>
<path d="M327,1408 L287,1408 L287,1356 L190,1356" stroke="#1a8aa5" stroke-width="5" fill="none"/>
<circle cx="190" cy="1356" r="7" fill="#21e0ee" stroke="#1a8aa5" stroke-width="4.5"/>
<path d="M331,1653 L331,1760" stroke="#1a8aa5" stroke-width="5" fill="none"/>
<circle cx="331" cy="1760" r="7" fill="#21e0ee" stroke="#1a8aa5" stroke-width="4.5"/>
<path d="M459,1167 L539,1167 L584,1167 L584,1085" stroke="#1a8aa5" stroke-width="5" fill="none"/>
<circle cx="584" cy="1085" r="7" fill="#21e0ee" stroke="#1a8aa5" stroke-width="4.5"/>
<path d="M448,1142 L342,1142 L405,1142 L405,1110" stroke="#1a8aa5" stroke-width="5" fill="none"/>
<circle cx="405" cy="1110" r="7" fill="#21e0ee" stroke="#1a8aa5" stroke-width="4.5"/>
<path d="M476,1231 L524,1231 L524,1259 L576,1259" stroke="#1a8aa5" stroke-width="5" fill="none"/>
<circle cx="576" cy="1259" r="7" fill="#21e0ee" stroke="#1a8aa5" stroke-width="4.5"/>
<path d="M505,1495 L411,1495 L411,1589" stroke="#1a8aa5" stroke-width="5" fill="none"/>
<circle cx="411" cy="1589" r="7" fill="#21e0ee" stroke="#1a8aa5" stroke-width="4.5"/>
<path d="M355,1166 L420,1166 L420,1216" stroke="#1a8aa5" stroke-width="5" fill="none"/>
<circle cx="420" cy="1216" r="7" fill="#21e0ee" stroke="#1a8aa5" stroke-width="4.5"/>
<path d="M423,1096 L423,1054 L529,1054" stroke="#1a8aa5" stroke-width="5" fill="none"/>
<circle cx="529" cy="1054" r="7" fill="#21e0ee" stroke="#1a8aa5" stroke-width="4.5"/>
<path d="M518,1800 L546,1800 L642,1800" stroke="#1a8aa5" stroke-width="5" fill="none"/>
<circle cx="642" cy="1800" r="7" fill="#21e0ee" stroke="#1a8aa5" stroke-width="4.5"/>
<path d="M452,1454 L352,1454 L352,1552" stroke="#1a8aa5" stroke-width="5" fill="none"/>
<circle cx="352" cy="1552" r="7" fill="#21e0ee" stroke="#1a8aa5" stroke-width="4.5"/>
<path d="M546,1159 L546,1187" stroke="#1a8aa5" stroke-width="5" fill="none"/>
<circle cx="546" cy="1187" r="7" fill="#21e0ee" stroke="#1a8aa5" stroke-width="4.5"/>
<path d="M495,1449 L495,1523" stroke="#1a8aa5" stroke-width="5" fill="none"/>
<circle cx="495" cy="1523" r="7" fill="#21e0ee" stroke="#1a8aa5" stroke-width="4.5"/>
<path d="M254,1622 L299,1622" stroke="#1a8aa5" stroke-width="5" fill="none"/>
<circle cx="299" cy="1622" r="7" fill="#21e0ee" stroke="#1a8aa5" stroke-width="4.5"/>
<path d="M256,1467 L256,1521" stroke="#1a8aa5" stroke-width="5" fill="none"/>
<circle cx="256" cy="1521" r="7" fill="#21e0ee" stroke="#1a8aa5" stroke-width="4.5"/>
<path d="M327,1708 L327,1763 L362,1763" stroke="#1a8aa5" stroke-width="5" fill="none"/>
<circle cx="362" cy="1763" r="7" fill="#21e0ee" stroke="#1a8aa5" stroke-width="4.5"/>
<path d="M521,1158 L624,1158" stroke="#1a8aa5" stroke-width="5" fill="none"/>
<circle cx="624" cy="1158" r="7" fill="#21e0ee" stroke="#1a8aa5" stroke-width="4.5"/>
<path d="M496,1679 L574,1679" stroke="#1a8aa5" stroke-width="5" fill="none"/>
<circle cx="574" cy="1679" r="7" fill="#21e0ee" stroke="#1a8aa5" stroke-width="4.5"/>
<path d="M513,1107 L561,1107 L561,1136" stroke="#1a8aa5" stroke-width="5" fill="none"/>
<circle cx="561" cy="1136" r="7" fill="#21e0ee" stroke="#1a8aa5" stroke-width="4.5"/>
<path d="M349,1676 L349,1648" stroke="#1a8aa5" stroke-width="5" fill="none"/>
<circle cx="349" cy="1648" r="7" fill="#21e0ee" stroke="#1a8aa5" stroke-width="4.5"/>
<path d="M265,1427 L265,1496" stroke="#1a8aa5" stroke-width="5" fill="none"/>
<circle cx="265" cy="1496" r="7" fill="#21e0ee" stroke="#1a8aa5" stroke-width="4.5"/>
<path d="M399,1186 L342,1186" stroke="#1a8aa5" stroke-width="5" fill="none"/>
<circle cx="342" cy="1186" r="7" fill="#21e0ee" stroke="#1a8aa5" stroke-width="4.5"/>
<path d="M369,1295 L478,1295 L478,1331" stroke="#1a8aa5" stroke-width="5" fill="none"/>
<circle cx="478" cy="1331" r="7" fill="#21e0ee" stroke="#1a8aa5" stroke-width="4.5"/>
<path d="M419,1600 L419,1673 L419,1730" stroke="#1a8aa5" stroke-width="5" fill="none"/>
<circle cx="419" cy="1730" r="7" fill="#21e0ee" stroke="#1a8aa5" stroke-width="4.5"/>
<path d="M434,1649 L434,1727 L434,1757" stroke="#1a8aa5" stroke-width="5" fill="none"/>
<circle cx="434" cy="1757" r="7" fill="#21e0ee" stroke="#1a8aa5" stroke-width="4.5"/>
<path d="M441,1632 L441,1738 L441,1802" stroke="#1a8aa5" stroke-width="5" fill="none"/>
<circle cx="441" cy="1802" r="7" fill="#21e0ee" stroke="#1a8aa5" stroke-width="4.5"/>
<path d="M325,1467 L325,1560 L386,1560 L386,1664" stroke="#1a8aa5" stroke-width="5" fill="none"/>
<circle cx="386" cy="1664" r="7" fill="#21e0ee" stroke="#1a8aa5" stroke-width="4.5"/>
<path d="M364,1734 L364,1799 L364,1904" stroke="#1a8aa5" stroke-width="5" fill="none"/>
<circle cx="364" cy="1904" r="7" fill="#21e0ee" stroke="#1a8aa5" stroke-width="4.5"/>
<path d="M473,1699 L473,1781 L400,1781 L400,1875" stroke="#1a8aa5" stroke-width="5" fill="none"/>
<circle cx="400" cy="1875" r="7" fill="#21e0ee" stroke="#1a8aa5" stroke-width="4.5"/>
<path d="M469,1420 L469,1449" stroke="#1a8aa5" stroke-width="5" fill="none"/>
<circle cx="469" cy="1449" r="7" fill="#21e0ee" stroke="#1a8aa5" stroke-width="4.5"/>
<path d="M278,1143 L278,1049 L181,1049" stroke="#1a8aa5" stroke-width="5" fill="none"/>
<circle cx="181" cy="1049" r="7" fill="#21e0ee" stroke="#1a8aa5" stroke-width="4.5"/>
<path d="M287,1695 L383,1695 L457,1695 L457,1723" stroke="#1a8aa5" stroke-width="5" fill="none"/>
<circle cx="457" cy="1723" r="7" fill="#21e0ee" stroke="#1a8aa5" stroke-width="4.5"/>
<path d="M484,1448 L518,1448 L518,1553 L518,1625" stroke="#1a8aa5" stroke-width="5" fill="none"/>
<circle cx="518" cy="1625" r="7" fill="#21e0ee" stroke="#1a8aa5" stroke-width="4.5"/>
<path d="M515,1204 L625,1204" stroke="#1a8aa5" stroke-width="5" fill="none"/>
<circle cx="625" cy="1204" r="7" fill="#21e0ee" stroke="#1a8aa5" stroke-width="4.5"/>
<path d="M447,1406 L447,1453 L447,1557 L447,1664" stroke="#1a8aa5" stroke-width="5" fill="none"/>
<circle cx="447" cy="1664" r="7" fill="#21e0ee" stroke="#1a8aa5" stroke-width="4.5"/>
<path d="M364,1244 L364,1184 L403,1184" stroke="#1a8aa5" stroke-width="5" fill="none"/>
<circle cx="403" cy="1184" r="7" fill="#21e0ee" stroke="#1a8aa5" stroke-width="4.5"/>
<path d="M372,1727 L372,1794" stroke="#1a8aa5" stroke-width="5" fill="none"/>
<circle cx="372" cy="1794" r="7" fill="#21e0ee" stroke="#1a8aa5" stroke-width="4.5"/>
<path d="M397,1587 L397,1550 L435,1550" stroke="#1a8aa5" stroke-width="5" fill="none"/>
<circle cx="435" cy="1550" r="7" fill="#21e0ee" stroke="#1a8aa5" stroke-width="4.5"/>
<path d="M407,1762 L489,1762 L489,1837 L590,1837" stroke="#1a8aa5" stroke-width="5" fill="none"/>
<circle cx="590" cy="1837" r="7" fill="#21e0ee" stroke="#1a8aa5" stroke-width="4.5"/>
<path d="M344,1268 L383,1268 L338,1268" stroke="#1a8aa5" stroke-width="5" fill="none"/>
<circle cx="338" cy="1268" r="7" fill="#21e0ee" stroke="#1a8aa5" stroke-width="4.5"/>
<path d="M397,1709 L482,1709 L547,1709" stroke="#1a8aa5" stroke-width="5" fill="none"/>
<circle cx="547" cy="1709" r="7" fill="#21e0ee" stroke="#1a8aa5" stroke-width="4.5"/>
<path d="M505,1678 L505,1744 L505,1842 L505,1933" stroke="#1a8aa5" stroke-width="5" fill="none"/>
<circle cx="505" cy="1933" r="7" fill="#21e0ee" stroke="#1a8aa5" stroke-width="4.5"/>
<path d="M519,1104 L599,1104" stroke="#1a8aa5" stroke-width="5" fill="none"/>
<circle cx="599" cy="1104" r="7" fill="#21e0ee" stroke="#1a8aa5" stroke-width="4.5"/>
<path d="M487,1121 L533,1121" stroke="#1a8aa5" stroke-width="5" fill="none"/>
<circle cx="533" cy="1121" r="7" fill="#21e0ee" stroke="#1a8aa5" stroke-width="4.5"/>
<path d="M308,1261 L308,1363" stroke="#1a8aa5" stroke-width="5" fill="none"/>
<circle cx="308" cy="1363" r="7" fill="#21e0ee" stroke="#1a8aa5" stroke-width="4.5"/>
<path d="M328,1710 L328,1649 L328,1684" stroke="#1a8aa5" stroke-width="5" fill="none"/>
<circle cx="328" cy="1684" r="7" fill="#21e0ee" stroke="#1a8aa5" stroke-width="4.5"/>
<path d="M331,1746 L267,1746" stroke="#1a8aa5" stroke-width="5" fill="none"/>
<circle cx="267" cy="1746" r="7" fill="#21e0ee" stroke="#1a8aa5" stroke-width="4.5"/>
<path d="M474,1319 L421,1319" stroke="#1a8aa5" stroke-width="5" fill="none"/>
<circle cx="421" cy="1319" r="7" fill="#21e0ee" stroke="#1a8aa5" stroke-width="4.5"/>
<path d="M366,1128 L424,1128 L389,1128 L420,1128" stroke="#1a8aa5" stroke-width="5" fill="none"/>
<circle cx="420" cy="1128" r="7" fill="#21e0ee" stroke="#1a8aa5" stroke-width="4.5"/>
<path d="M382,1394 L415,1394 L333,1394 L243,1394" stroke="#1a8aa5" stroke-width="5" fill="none"/>
<circle cx="243" cy="1394" r="7" fill="#21e0ee" stroke="#1a8aa5" stroke-width="4.5"/>
<path d="M340,1570 L374,1570 L292,1570 L292,1652" stroke="#1a8aa5" stroke-width="5" fill="none"/>
<circle cx="292" cy="1652" r="7" fill="#21e0ee" stroke="#1a8aa5" stroke-width="4.5"/>
<path d="M405,1114 L405,1034 L405,994" stroke="#1a8aa5" stroke-width="5" fill="none"/>
<circle cx="405" cy="994" r="7" fill="#21e0ee" stroke="#1a8aa5" stroke-width="4.5"/>
<rect x="322" y="1290" width="80" height="55" fill="none" stroke="#1a8aa5" stroke-width="5"/>
<rect x="430" y="1688" width="55" height="85" fill="none" stroke="#1a8aa5" stroke-width="5"/>
</g>
<path d="M557.6,1110.0 C554.6,1102.3 552.9,1073.3 539.5,1064.0 C526.1,1054.7 495.9,1054.0 477.0,1054.0 C458.1,1054.0 439.3,1057.0 426.0,1064.0 C412.7,1071.0 403.2,1082.3 397.0,1096.0 C390.8,1109.7 393.5,1135.7 389.0,1146.0 C384.5,1156.3 377.9,1153.8 370.0,1158.0 C362.1,1162.2 352.8,1161.7 341.5,1171.5 C330.2,1181.3 312.9,1200.1 302.0,1217.0 C291.1,1233.9 282.3,1251.7 276.0,1273.0 C269.7,1294.3 268.3,1323.8 264.0,1345.0 C259.7,1366.2 255.0,1381.8 250.0,1400.0 C245.0,1418.2 238.1,1432.7 234.0,1454.0 C229.9,1475.3 226.8,1504.0 225.5,1528.0 C224.2,1552.0 223.6,1574.4 226.0,1598.0 C228.4,1621.6 233.0,1647.2 240.0,1669.5 C247.0,1691.8 254.8,1713.1 268.0,1732.0 C281.2,1750.9 300.2,1769.3 319.0,1783.0 C337.8,1796.7 360.3,1806.5 381.0,1814.0 C401.7,1821.5 424.2,1826.0 443.0,1828.0 C461.8,1830.0 478.7,1829.3 494.0,1826.0 C509.3,1822.7 524.4,1817.3 535.0,1808.0 C545.6,1798.7 553.8,1776.3 557.6,1770.0 C561.4,1763.7 557.6,1770.0 557.6,1770.0  Z" fill="none" stroke="#1a8aa5" stroke-width="8"/>
<path d="M578.0,1783.0 C578.0,1783.0 574.0,1778.0 578.0,1782.7 C582.0,1787.4 589.3,1804.0 601.8,1811.0 C614.2,1818.0 632.9,1822.2 652.7,1825.0 C672.5,1827.8 697.1,1829.8 720.6,1828.0 C744.1,1826.2 771.4,1822.5 794.0,1814.0 C816.6,1805.5 839.5,1792.7 856.5,1777.0 C873.5,1761.3 886.1,1740.8 896.0,1720.0 C905.9,1699.2 911.7,1677.9 916.0,1652.5 C920.3,1627.1 922.0,1595.8 922.0,1567.6 C922.0,1539.3 920.2,1508.4 916.0,1483.0 C911.8,1457.6 903.8,1437.7 897.0,1415.0 C890.2,1392.3 880.3,1371.5 875.0,1347.0 C869.7,1322.5 870.9,1290.4 865.0,1267.7 C859.1,1245.0 850.3,1227.0 839.5,1211.0 C828.7,1195.0 813.8,1181.7 800.0,1171.5 C786.2,1161.3 766.8,1162.2 757.0,1150.0 C747.2,1137.8 749.0,1112.3 741.0,1098.0 C733.0,1083.7 723.7,1071.3 709.0,1064.0 C694.3,1056.7 671.5,1053.1 652.7,1054.0 C633.9,1054.9 608.5,1061.3 596.0,1069.6 C583.5,1077.9 581.0,1098.3 578.0,1104.0  Z" fill="#e8d21a"/>
<g clip-path="url(#clipR)">
<rect x="570" y="1040" width="370" height="800" fill="#cfb91e"/>
<path d="M578.0,1783.0 C578.0,1783.0 574.0,1778.0 578.0,1782.7 C582.0,1787.4 589.3,1804.0 601.8,1811.0 C614.2,1818.0 632.9,1822.2 652.7,1825.0 C672.5,1827.8 697.1,1829.8 720.6,1828.0 C744.1,1826.2 771.4,1822.5 794.0,1814.0 C816.6,1805.5 839.5,1792.7 856.5,1777.0 C873.5,1761.3 886.1,1740.8 896.0,1720.0 C905.9,1699.2 911.7,1677.9 916.0,1652.5 C920.3,1627.1 922.0,1595.8 922.0,1567.6 C922.0,1539.3 920.2,1508.4 916.0,1483.0 C911.8,1457.6 903.8,1437.7 897.0,1415.0 C890.2,1392.3 880.3,1371.5 875.0,1347.0 C869.7,1322.5 870.9,1290.4 865.0,1267.7 C859.1,1245.0 850.3,1227.0 839.5,1211.0 C828.7,1195.0 813.8,1181.7 800.0,1171.5 C786.2,1161.3 766.8,1162.2 757.0,1150.0 C747.2,1137.8 749.0,1112.3 741.0,1098.0 C733.0,1083.7 723.7,1071.3 709.0,1064.0 C694.3,1056.7 671.5,1053.1 652.7,1054.0 C633.9,1054.9 608.5,1061.3 596.0,1069.6 C583.5,1077.9 581.0,1098.3 578.0,1104.0  Z" fill="#e9d41a" transform="translate(-55,-4)"/>
<path d="M604,1285 L638,1236 M596,1542 L570,1475 M646,1356 L682,1290 M824,1725 L888,1763 M903,1413 L920,1474 M636,1167 L577,1152 M915,1714 L917,1644 M721,1160 L701,1216 M750,1568 L801,1612 M923,1564 L920,1474 M816,1202 L757,1206 M596,1542 L583,1597 M771,1398 L704,1403 M750,1568 L744,1622 M888,1522 L920,1474 M850,1258 L816,1202 M771,1398 L821,1438 M750,1568 L697,1586 M636,1167 L701,1216 M639,1623 L697,1586 M603,1685 L639,1623 M797,1671 L824,1725 M657,1520 L697,1586 M724,1337 L682,1290 M636,1449 L657,1520 M733,1487 L821,1438 M760,1092 L718,1057 M604,1285 L570,1211 M674,1100 L721,1160 M639,1623 L681,1670 M846,1361 L811,1317 M596,1542 L657,1520 M744,1622 L801,1612 M836,1788 L758,1785 M581,1412 L574,1343 M603,1685 L624,1736 M836,1788 L888,1763 M872,1604 L917,1644 M627,1057 L584,1093 M903,1413 L886,1318 M821,1438 L845,1487 M805,1531 L888,1522 M674,1100 L718,1057 M799,1830 L888,1763 M606,1827 L647,1790 M576,1764 L624,1736 M846,1361 L886,1318 M679,1744 L624,1736 M744,1622 L697,1586 M903,1413 L846,1361 M733,1487 L657,1520 M850,1258 L886,1318 M724,1337 L811,1317 M797,1671 L853,1670 M872,1604 L853,1670 M836,1788 L799,1830 M729,1711 L758,1785 M577,1152 L584,1093 M920,1474 L845,1487 M850,1258 L791,1266 M570,1211 L577,1152 M760,1092 L674,1100 M744,1622 L681,1670 M760,1092 L776,1149 M888,1522 L845,1487 M760,1092 L816,1202 M646,1356 L704,1403 M733,1487 L697,1586 M638,1236 L682,1290 M735,1265 L791,1266 M674,1100 L636,1167 M735,1265 L682,1290 M636,1449 L581,1412 M733,1487 L771,1398 M636,1449 L704,1403 M836,1788 L824,1725 M704,1403 L724,1337 M729,1711 L681,1670 M797,1671 L729,1711 M791,1266 L811,1317 M846,1361 L821,1438 M646,1356 L574,1343 M679,1744 L647,1790 M733,1487 L805,1531 M638,1236 L570,1211 M581,1412 L646,1356 M729,1711 L679,1744 M701,1216 L757,1206 M805,1531 L750,1568 M685,1834 L647,1790 M638,1236 L701,1216 M776,1149 L721,1160 M647,1790 L624,1736 M805,1531 L821,1438 M581,1412 L570,1475 M735,1265 L701,1216 M872,1604 L923,1564 M758,1785 L799,1830 M638,1236 L636,1167 M685,1834 L758,1785 M797,1671 L801,1612 M603,1685 L681,1670 M872,1604 L801,1612 M604,1285 L574,1343 M574,1343 L570,1475 M606,1827 L576,1764 M915,1714 L888,1763 M776,1149 L757,1206 M888,1522 L923,1564 M636,1167 L584,1093 M721,1160 L757,1206 M805,1531 L845,1487 M733,1487 L704,1403 M681,1670 L624,1736 M639,1623 L583,1597 M627,1057 L674,1100 M606,1827 L685,1834 M636,1449 L570,1475 M733,1487 L750,1568 M603,1685 L576,1764 " stroke="#1a8aa5" stroke-width="5" fill="none"/>
<circle cx="733" cy="1487" r="7" fill="#1a8aa5"/>
<circle cx="903" cy="1413" r="12" fill="#1a8aa5"/>
<circle cx="636" cy="1449" r="8" fill="#1a8aa5"/>
<circle cx="797" cy="1671" r="6" fill="#1a8aa5"/>
<circle cx="604" cy="1285" r="13" fill="#1a8aa5"/>
<circle cx="603" cy="1685" r="7" fill="#1a8aa5"/>
<circle cx="805" cy="1531" r="12" fill="#1a8aa5"/>
<circle cx="627" cy="1057" r="8" fill="#1a8aa5"/>
<circle cx="760" cy="1092" r="6" fill="#1a8aa5"/>
<circle cx="638" cy="1236" r="13" fill="#1a8aa5"/>
<circle cx="581" cy="1412" r="7" fill="#1a8aa5"/>
<circle cx="729" cy="1711" r="12" fill="#1a8aa5"/>
<circle cx="750" cy="1568" r="8" fill="#1a8aa5"/>
<circle cx="735" cy="1265" r="6" fill="#1a8aa5"/>
<circle cx="872" cy="1604" r="13" fill="#1a8aa5"/>
<circle cx="674" cy="1100" r="7" fill="#1a8aa5"/>
<circle cx="846" cy="1361" r="12" fill="#1a8aa5"/>
<circle cx="915" cy="1714" r="8" fill="#1a8aa5"/>
<circle cx="570" cy="1211" r="6" fill="#1a8aa5"/>
<circle cx="596" cy="1542" r="13" fill="#1a8aa5"/>
<circle cx="850" cy="1258" r="7" fill="#1a8aa5"/>
<circle cx="917" cy="1644" r="12" fill="#1a8aa5"/>
<circle cx="771" cy="1398" r="8" fill="#1a8aa5"/>
<circle cx="639" cy="1623" r="6" fill="#1a8aa5"/>
<circle cx="679" cy="1744" r="13" fill="#1a8aa5"/>
<circle cx="646" cy="1356" r="7" fill="#1a8aa5"/>
<circle cx="606" cy="1827" r="12" fill="#1a8aa5"/>
<circle cx="657" cy="1520" r="8" fill="#1a8aa5"/>
<circle cx="704" cy="1403" r="6" fill="#1a8aa5"/>
<circle cx="636" cy="1167" r="13" fill="#1a8aa5"/>
<circle cx="836" cy="1788" r="7" fill="#1a8aa5"/>
<circle cx="888" cy="1522" r="12" fill="#1a8aa5"/>
<circle cx="791" cy="1266" r="8" fill="#1a8aa5"/>
<circle cx="776" cy="1149" r="6" fill="#1a8aa5"/>
<circle cx="923" cy="1564" r="13" fill="#1a8aa5"/>
<circle cx="576" cy="1764" r="7" fill="#1a8aa5"/>
<circle cx="744" cy="1622" r="12" fill="#1a8aa5"/>
<circle cx="685" cy="1834" r="8" fill="#1a8aa5"/>
<circle cx="697" cy="1586" r="6" fill="#1a8aa5"/>
<circle cx="821" cy="1438" r="13" fill="#1a8aa5"/>
<circle cx="681" cy="1670" r="7" fill="#1a8aa5"/>
<circle cx="577" cy="1152" r="12" fill="#1a8aa5"/>
<circle cx="816" cy="1202" r="8" fill="#1a8aa5"/>
<circle cx="801" cy="1612" r="6" fill="#1a8aa5"/>
<circle cx="824" cy="1725" r="13" fill="#1a8aa5"/>
<circle cx="758" cy="1785" r="7" fill="#1a8aa5"/>
<circle cx="584" cy="1093" r="12" fill="#1a8aa5"/>
<circle cx="724" cy="1337" r="8" fill="#1a8aa5"/>
<circle cx="721" cy="1160" r="6" fill="#1a8aa5"/>
<circle cx="799" cy="1830" r="13" fill="#1a8aa5"/>
<circle cx="682" cy="1290" r="7" fill="#1a8aa5"/>
<circle cx="574" cy="1343" r="12" fill="#1a8aa5"/>
<circle cx="718" cy="1057" r="8" fill="#1a8aa5"/>
<circle cx="853" cy="1670" r="6" fill="#1a8aa5"/>
<circle cx="701" cy="1216" r="13" fill="#1a8aa5"/>
<circle cx="570" cy="1475" r="7" fill="#1a8aa5"/>
<circle cx="811" cy="1317" r="12" fill="#1a8aa5"/>
<circle cx="583" cy="1597" r="8" fill="#1a8aa5"/>
<circle cx="920" cy="1474" r="6" fill="#1a8aa5"/>
<circle cx="757" cy="1206" r="13" fill="#1a8aa5"/>
<circle cx="886" cy="1318" r="7" fill="#1a8aa5"/>
<circle cx="647" cy="1790" r="12" fill="#1a8aa5"/>
<circle cx="845" cy="1487" r="8" fill="#1a8aa5"/>
<circle cx="888" cy="1763" r="6" fill="#1a8aa5"/>
<circle cx="624" cy="1736" r="13" fill="#1a8aa5"/>
</g>
<path d="M578.0,1783.0 C578.0,1783.0 574.0,1778.0 578.0,1782.7 C582.0,1787.4 589.3,1804.0 601.8,1811.0 C614.2,1818.0 632.9,1822.2 652.7,1825.0 C672.5,1827.8 697.1,1829.8 720.6,1828.0 C744.1,1826.2 771.4,1822.5 794.0,1814.0 C816.6,1805.5 839.5,1792.7 856.5,1777.0 C873.5,1761.3 886.1,1740.8 896.0,1720.0 C905.9,1699.2 911.7,1677.9 916.0,1652.5 C920.3,1627.1 922.0,1595.8 922.0,1567.6 C922.0,1539.3 920.2,1508.4 916.0,1483.0 C911.8,1457.6 903.8,1437.7 897.0,1415.0 C890.2,1392.3 880.3,1371.5 875.0,1347.0 C869.7,1322.5 870.9,1290.4 865.0,1267.7 C859.1,1245.0 850.3,1227.0 839.5,1211.0 C828.7,1195.0 813.8,1181.7 800.0,1171.5 C786.2,1161.3 766.8,1162.2 757.0,1150.0 C747.2,1137.8 749.0,1112.3 741.0,1098.0 C733.0,1083.7 723.7,1071.3 709.0,1064.0 C694.3,1056.7 671.5,1053.1 652.7,1054.0 C633.9,1054.9 608.5,1061.3 596.0,1069.6 C583.5,1077.9 581.0,1098.3 578.0,1104.0  Z" fill="none" stroke="#1a8aa5" stroke-width="8"/>
<circle cx="3319" cy="1367" r="358" fill="#ffffff"/>
<path d="M3412.4,1095.6 A287,287 0 0 1 3483.6,1131.9 Q3319.0,1367.0 3397.6,1091.0 A287,287 0 0 1 3400.5,1091.8 Q3319.0,1367.0 3412.4,1095.6 Z" fill="#c4c4c4" fill-opacity="0.82"/>
<path d="M3491.7,1137.8 A287,287 0 0 1 3548.2,1194.3 Q3319.0,1367.0 3393.9,1090.0 A287,287 0 0 1 3396.9,1090.8 Q3319.0,1367.0 3491.7,1137.8 Z" fill="#c4c4c4" fill-opacity="0.82"/>
<path d="M3554.1,1202.4 A287,287 0 0 1 3590.4,1273.6 Q3319.0,1367.0 3390.3,1089.0 A287,287 0 0 1 3393.2,1089.8 Q3319.0,1367.0 3554.1,1202.4 Z" fill="#c4c4c4" fill-opacity="0.82"/>
<path d="M3593.5,1283.1 A287,287 0 0 1 3606.0,1362.0 Q3319.0,1367.0 3386.6,1088.1 A287,287 0 0 1 3389.5,1088.8 Q3319.0,1367.0 3593.5,1283.1 Z" fill="#c4c4c4" fill-opacity="0.82"/>
<path d="M3606.0,1372.0 A287,287 0 0 1 3593.5,1450.9 Q3319.0,1367.0 3382.9,1087.2 A287,287 0 0 1 3385.8,1087.9 Q3319.0,1367.0 3606.0,1372.0 Z" fill="#c4c4c4" fill-opacity="0.82"/>
<path d="M3590.4,1460.4 A287,287 0 0 1 3554.1,1531.6 Q3319.0,1367.0 3379.2,1086.4 A287,287 0 0 1 3382.1,1087.0 Q3319.0,1367.0 3590.4,1460.4 Z" fill="#c4c4c4" fill-opacity="0.82"/>
<path d="M3308.6,1653.8 A287,287 0 0 1 3303.7,1653.6 Q3319.0,1367.0 3364.5,1083.6 A287,287 0 0 1 3364.7,1083.7 Q3319.0,1367.0 3308.6,1653.8 Z" fill="#c4c4c4" fill-opacity="0.85"/>
<path d="M3301.6,1653.5 A287,287 0 0 1 3296.8,1653.1 Q3319.0,1367.0 3364.8,1083.7 A287,287 0 0 1 3365.0,1083.7 Q3319.0,1367.0 3301.6,1653.5 Z" fill="#c4c4c4" fill-opacity="0.85"/>
<path d="M3287.8,1652.3 A287,287 0 0 1 3283.0,1651.7 Q3319.0,1367.0 3365.3,1083.8 A287,287 0 0 1 3365.5,1083.8 Q3319.0,1367.0 3287.8,1652.3 Z" fill="#c4c4c4" fill-opacity="0.85"/>
<path d="M3281.0,1651.5 A287,287 0 0 1 3276.2,1650.8 Q3319.0,1367.0 3365.5,1083.8 A287,287 0 0 1 3365.7,1083.8 Q3319.0,1367.0 3281.0,1651.5 Z" fill="#c4c4c4" fill-opacity="0.85"/>
<path d="M3267.3,1649.3 A287,287 0 0 1 3262.5,1648.4 Q3319.0,1367.0 3366.0,1083.9 A287,287 0 0 1 3366.2,1083.9 Q3319.0,1367.0 3267.3,1649.3 Z" fill="#c4c4c4" fill-opacity="0.85"/>
<path d="M3260.5,1648.0 A287,287 0 0 1 3255.7,1646.9 Q3319.0,1367.0 3366.3,1083.9 A287,287 0 0 1 3366.5,1084.0 Q3319.0,1367.0 3260.5,1648.0 Z" fill="#c4c4c4" fill-opacity="0.85"/>
<path d="M3247.0,1644.8 A287,287 0 0 1 3242.3,1643.6 Q3319.0,1367.0 3366.8,1084.0 A287,287 0 0 1 3367.0,1084.0 Q3319.0,1367.0 3247.0,1644.8 Z" fill="#c4c4c4" fill-opacity="0.85"/>
<path d="M3240.3,1643.0 A287,287 0 0 1 3235.6,1641.6 Q3319.0,1367.0 3367.0,1084.0 A287,287 0 0 1 3367.2,1084.1 Q3319.0,1367.0 3240.3,1643.0 Z" fill="#c4c4c4" fill-opacity="0.85"/>
<path d="M3083.9,1531.6 A287,287 0 0 1 3047.6,1460.4 Q3319.0,1367.0 3353.0,1082.0 A287,287 0 0 1 3356.0,1082.4 Q3319.0,1367.0 3083.9,1531.6 Z" fill="#c4c4c4" fill-opacity="0.82"/>
<path d="M3044.5,1450.9 A287,287 0 0 1 3032.0,1372.0 Q3319.0,1367.0 3349.2,1081.6 A287,287 0 0 1 3352.2,1081.9 Q3319.0,1367.0 3044.5,1450.9 Z" fill="#c4c4c4" fill-opacity="0.82"/>
<path d="M3047.6,1273.6 A287,287 0 0 1 3083.9,1202.4 Q3319.0,1367.0 3341.6,1080.9 A287,287 0 0 1 3344.7,1081.2 Q3319.0,1367.0 3047.6,1273.6 Z" fill="#c4c4c4" fill-opacity="0.82"/>
<path d="M3089.8,1194.3 A287,287 0 0 1 3146.3,1137.8 Q3319.0,1367.0 3337.9,1080.6 A287,287 0 0 1 3340.9,1080.8 Q3319.0,1367.0 3089.8,1194.3 Z" fill="#c4c4c4" fill-opacity="0.82"/>
<path d="M3548.2,1539.7 A287,287 0 0 1 3491.7,1596.2 Q3319.0,1367.0 3375.5,1085.6 A287,287 0 0 1 3378.4,1086.2 Q3319.0,1367.0 3548.2,1539.7 Z" fill="#5d8fc9" fill-opacity="0.82"/>
<path d="M3483.6,1602.1 A287,287 0 0 1 3412.4,1638.4 Q3319.0,1367.0 3371.7,1084.9 A287,287 0 0 1 3374.7,1085.5 Q3319.0,1367.0 3483.6,1602.1 Z" fill="#5d8fc9" fill-opacity="0.82"/>
<path d="M3402.9,1641.5 A287,287 0 0 1 3324.0,1654.0 Q3319.0,1367.0 3368.0,1084.2 A287,287 0 0 1 3371.0,1084.7 Q3319.0,1367.0 3402.9,1641.5 Z" fill="#5d8fc9" fill-opacity="0.82"/>
<path d="M3315.5,1654.0 A287,287 0 0 1 3310.6,1653.9 Q3319.0,1367.0 3364.3,1083.6 A287,287 0 0 1 3364.5,1083.6 Q3319.0,1367.0 3315.5,1654.0 Z" fill="#5d8fc9" fill-opacity="0.85"/>
<path d="M3294.7,1653.0 A287,287 0 0 1 3289.9,1652.5 Q3319.0,1367.0 3365.0,1083.7 A287,287 0 0 1 3365.2,1083.7 Q3319.0,1367.0 3294.7,1653.0 Z" fill="#5d8fc9" fill-opacity="0.85"/>
<path d="M3274.1,1650.5 A287,287 0 0 1 3269.3,1649.7 Q3319.0,1367.0 3365.8,1083.8 A287,287 0 0 1 3366.0,1083.9 Q3319.0,1367.0 3274.1,1650.5 Z" fill="#5d8fc9" fill-opacity="0.85"/>
<path d="M3253.7,1646.5 A287,287 0 0 1 3249.0,1645.3 Q3319.0,1367.0 3366.5,1084.0 A287,287 0 0 1 3366.7,1084.0 Q3319.0,1367.0 3253.7,1646.5 Z" fill="#5d8fc9" fill-opacity="0.85"/>
<path d="M3225.6,1638.4 A287,287 0 0 1 3154.4,1602.1 Q3319.0,1367.0 3360.5,1083.0 A287,287 0 0 1 3363.5,1083.5 Q3319.0,1367.0 3225.6,1638.4 Z" fill="#5d8fc9" fill-opacity="0.82"/>
<path d="M3146.3,1596.2 A287,287 0 0 1 3089.8,1539.7 Q3319.0,1367.0 3356.7,1082.5 A287,287 0 0 1 3359.8,1082.9 Q3319.0,1367.0 3146.3,1596.2 Z" fill="#5d8fc9" fill-opacity="0.82"/>
<path d="M3032.0,1362.0 A287,287 0 0 1 3044.5,1283.1 Q3319.0,1367.0 3345.4,1081.2 A287,287 0 0 1 3348.4,1081.5 Q3319.0,1367.0 3032.0,1362.0 Z" fill="#5d8fc9" fill-opacity="0.82"/>
<path d="M3154.4,1131.9 A287,287 0 0 1 3225.6,1095.6 Q3319.0,1367.0 3334.1,1080.4 A287,287 0 0 1 3337.1,1080.6 Q3319.0,1367.0 3154.4,1131.9 Z" fill="#5d8fc9" fill-opacity="0.82"/>
<path d="M3235.1,1092.5 A287,287 0 0 1 3314.0,1080.0 Q3319.0,1367.0 3330.3,1080.2 A287,287 0 0 1 3333.3,1080.4 Q3319.0,1367.0 3235.1,1092.5 Z" fill="#5d8fc9" fill-opacity="0.82"/>
<path d="M3398.1,1091.1 A287,287 0 0 1 3402.0,1092.2 Q3319.0,1367.0 3220.8,1636.7 A287,287 0 0 1 3218.0,1635.6 Q3319.0,1367.0 3398.1,1091.1 Z" fill="#e8dc4a" fill-opacity="0.8"/>
<path d="M3323.0,1037.0 A330,330 0 0 1 3417.1,1051.9 L3414.3,1061.0 A320.5,320.5 0 0 0 3322.9,1046.5 Z" fill="#d7c61b"/>
<path d="M3322.8,1053.0 A314,314 0 0 1 3330.1,1053.2 L3329.3,1076.2 A291,291 0 0 0 3322.6,1076.0 Z" fill="#dccb1d"/>
<path d="M3323.0,1035.5 A331.5,331.5 0 0 1 3417.6,1050.5" stroke="#111" stroke-width="3" fill="none"/>
<path d="M3323.0,1036.0 L3323.2,1027.0 M3332.6,1036.3 L3332.8,1031.3 M3342.2,1036.8 L3342.6,1031.8 M3351.8,1037.6 L3352.3,1032.6 M3361.3,1038.7 L3361.9,1033.8 M3370.8,1040.1 L3371.6,1035.1 M3380.2,1041.7 L3381.9,1032.9 M3389.6,1043.6 L3390.7,1038.7 M3399.0,1045.8 L3400.2,1041.0 M3408.2,1048.3 L3409.6,1043.4 M3417.4,1051.0 L3418.9,1046.2 " stroke="#111" stroke-width="2.5" fill="none"/>
<text x="3319" y="1024" transform="rotate(1.70 3319 1367)" font-family="'Liberation Sans', sans-serif" font-weight="bold" font-size="13" fill="#111" text-anchor="middle">0%</text>
<text x="3319" y="1024" transform="rotate(10.99 3319 1367)" font-family="'Liberation Sans', sans-serif" font-weight="bold" font-size="13" fill="#111" text-anchor="middle">60%</text>
<text x="3283.0" y="1000" transform="rotate(9.00 3319 1367)" font-family="'Liberation Sans', sans-serif" font-weight="bold" font-size="15.5" fill="#ffffff" textLength="72.0" lengthAdjust="spacingAndGlyphs">Compound</text>
<path d="M3424.8,1054.4 A330,330 0 0 1 3509.7,1097.7 L3504.2,1105.4 A320.5,320.5 0 0 0 3421.8,1063.4 Z" fill="#9a9a9a"/>
<path d="M3419.7,1069.6 A314,314 0 0 1 3450.1,1081.7 L3440.5,1102.6 A291,291 0 0 0 3412.3,1091.4 Z" fill="#dccb1d"/>
<path d="M3450.1,1081.7 A314,314 0 0 1 3500.4,1110.7 L3487.2,1129.5 A291,291 0 0 0 3440.5,1102.6 Z" fill="#979797"/>
<path d="M3425.3,1053.0 A331.5,331.5 0 0 1 3510.6,1096.5" stroke="#111" stroke-width="3" fill="none"/>
<path d="M3425.1,1053.5 L3428.0,1044.9 M3434.2,1056.7 L3435.9,1052.0 M3443.1,1060.1 L3445.0,1055.5 M3451.9,1063.9 L3453.9,1059.3 M3460.7,1067.8 L3462.8,1063.3 M3469.3,1072.1 L3471.5,1067.6 M3477.8,1076.6 L3482.1,1068.7 M3486.1,1081.3 L3488.6,1077.0 M3494.3,1086.2 L3497.0,1082.0 M3502.4,1091.4 L3505.1,1087.3 M3510.3,1096.9 L3513.2,1092.8 " stroke="#111" stroke-width="2.5" fill="none"/>
<text x="3319" y="1024" transform="rotate(19.70 3319 1367)" font-family="'Liberation Sans', sans-serif" font-weight="bold" font-size="13" fill="#111" text-anchor="middle">0%</text>
<text x="3319" y="1024" transform="rotate(28.99 3319 1367)" font-family="'Liberation Sans', sans-serif" font-weight="bold" font-size="13" fill="#111" text-anchor="middle">60%</text>
<text x="3272.0" y="1000" transform="rotate(27.00 3319 1367)" font-family="'Liberation Sans', sans-serif" font-weight="bold" font-size="15.5" fill="#ffffff" textLength="94.0" lengthAdjust="spacingAndGlyphs">MPVDLSKWSG</text>
<path d="M3516.2,1102.4 A330,330 0 0 1 3583.6,1169.8 L3576.0,1175.5 A320.5,320.5 0 0 0 3510.5,1110.0 Z" fill="#9a9a9a"/>
<path d="M3506.7,1115.2 A314,314 0 0 1 3527.8,1132.5 L3512.5,1149.7 A291,291 0 0 0 3492.9,1133.7 Z" fill="#dccb1d"/>
<path d="M3527.8,1132.5 A314,314 0 0 1 3570.8,1179.3 L3552.3,1193.1 A291,291 0 0 0 3512.5,1149.7 Z" fill="#979797"/>
<path d="M3517.1,1101.2 A331.5,331.5 0 0 1 3584.8,1168.9" stroke="#111" stroke-width="3" fill="none"/>
<path d="M3516.8,1101.6 L3522.2,1094.4 M3524.4,1107.5 L3527.5,1103.5 M3531.9,1113.5 L3535.1,1109.7 M3539.1,1119.8 L3542.4,1116.1 M3546.2,1126.3 L3549.6,1122.6 M3553.1,1132.9 L3556.6,1129.4 M3559.7,1139.8 L3566.3,1133.6 M3566.2,1146.9 L3569.9,1143.6 M3572.5,1154.1 L3576.3,1150.9 M3578.5,1161.6 L3582.5,1158.5 M3584.4,1169.2 L3588.4,1166.2 " stroke="#111" stroke-width="2.5" fill="none"/>
<text x="3319" y="1024" transform="rotate(37.70 3319 1367)" font-family="'Liberation Sans', sans-serif" font-weight="bold" font-size="13" fill="#111" text-anchor="middle">0%</text>
<text x="3319" y="1024" transform="rotate(46.99 3319 1367)" font-family="'Liberation Sans', sans-serif" font-weight="bold" font-size="13" fill="#111" text-anchor="middle">60%</text>
<text x="3272.0" y="1000" transform="rotate(45.00 3319 1367)" font-family="'Liberation Sans', sans-serif" font-weight="bold" font-size="15.5" fill="#ffffff" textLength="94.0" lengthAdjust="spacingAndGlyphs">PLSLQEVDEQ</text>
<path d="M3588.3,1176.3 A330,330 0 0 1 3631.6,1261.2 L3622.6,1264.2 A320.5,320.5 0 0 0 3580.6,1181.8 Z" fill="#9a9a9a"/>
<path d="M3575.3,1185.6 A314,314 0 0 1 3600.8,1228.5 L3580.2,1238.7 A291,291 0 0 0 3556.5,1198.8 Z" fill="#dccb1d"/>
<path d="M3600.8,1228.5 A314,314 0 0 1 3616.4,1266.3 L3594.6,1273.7 A291,291 0 0 0 3580.2,1238.7 Z" fill="#979797"/>
<path d="M3589.5,1175.4 A331.5,331.5 0 0 1 3633.0,1260.7" stroke="#111" stroke-width="3" fill="none"/>
<path d="M3589.1,1175.7 L3596.5,1170.5 M3594.6,1183.6 L3598.7,1180.9 M3599.8,1191.7 L3604.0,1189.0 M3604.7,1199.9 L3609.0,1197.4 M3609.4,1208.2 L3613.8,1205.9 M3613.9,1216.7 L3618.4,1214.5 M3618.2,1225.3 L3626.3,1221.5 M3622.1,1234.1 L3626.7,1232.1 M3625.9,1242.9 L3630.5,1241.0 M3629.3,1251.8 L3634.0,1250.1 M3632.5,1260.9 L3637.3,1259.3 " stroke="#111" stroke-width="2.5" fill="none"/>
<text x="3319" y="1024" transform="rotate(55.70 3319 1367)" font-family="'Liberation Sans', sans-serif" font-weight="bold" font-size="13" fill="#111" text-anchor="middle">0%</text>
<text x="3319" y="1024" transform="rotate(64.99 3319 1367)" font-family="'Liberation Sans', sans-serif" font-weight="bold" font-size="13" fill="#111" text-anchor="middle">60%</text>
<text x="3272.0" y="1000" transform="rotate(63.00 3319 1367)" font-family="'Liberation Sans', sans-serif" font-weight="bold" font-size="15.5" fill="#ffffff" textLength="94.0" lengthAdjust="spacingAndGlyphs">PQHPLHVTYA</text>
<path d="M3634.1,1268.9 A330,330 0 0 1 3649.0,1363.0 L3639.5,1363.1 A320.5,320.5 0 0 0 3625.0,1271.7 Z" fill="#9a9a9a"/>
<path d="M3618.8,1273.6 A314,314 0 0 1 3631.5,1335.9 L3608.6,1338.2 A291,291 0 0 0 3596.8,1280.5 Z" fill="#dccb1d"/>
<path d="M3631.5,1335.9 A314,314 0 0 1 3633.0,1363.2 L3610.0,1363.4 A291,291 0 0 0 3608.6,1338.2 Z" fill="#979797"/>
<path d="M3635.5,1268.4 A331.5,331.5 0 0 1 3650.5,1363.0" stroke="#111" stroke-width="3" fill="none"/>
<path d="M3635.0,1268.6 L3643.6,1265.9 M3637.7,1277.8 L3642.6,1276.4 M3640.2,1287.0 L3645.0,1285.8 M3642.4,1296.4 L3647.3,1295.3 M3644.3,1305.8 L3649.2,1304.8 M3645.9,1315.2 L3650.9,1314.4 M3647.3,1324.7 L3656.2,1323.6 M3648.4,1334.2 L3653.4,1333.7 M3649.2,1343.8 L3654.2,1343.4 M3649.7,1353.4 L3654.7,1353.2 M3650.0,1363.0 L3655.0,1362.9 " stroke="#111" stroke-width="2.5" fill="none"/>
<text x="3319" y="1024" transform="rotate(73.70 3319 1367)" font-family="'Liberation Sans', sans-serif" font-weight="bold" font-size="13" fill="#111" text-anchor="middle">0%</text>
<text x="3319" y="1024" transform="rotate(82.99 3319 1367)" font-family="'Liberation Sans', sans-serif" font-weight="bold" font-size="13" fill="#111" text-anchor="middle">60%</text>
<text x="3272.0" y="1000" transform="rotate(81.00 3319 1367)" font-family="'Liberation Sans', sans-serif" font-weight="bold" font-size="15.5" fill="#ffffff" textLength="94.0" lengthAdjust="spacingAndGlyphs">GAAVDELGKV</text>
<path d="M3649.0,1371.0 A330,330 0 0 1 3634.1,1465.1 L3625.0,1462.3 A320.5,320.5 0 0 0 3639.5,1370.9 Z" fill="#9a9a9a"/>
<path d="M3633.0,1370.8 A314,314 0 0 1 3621.4,1451.7 L3599.2,1445.5 A291,291 0 0 0 3610.0,1370.6 Z" fill="#dccb1d"/>
<path d="M3621.4,1451.7 A314,314 0 0 1 3618.8,1460.4 L3596.8,1453.5 A291,291 0 0 0 3599.2,1445.5 Z" fill="#979797"/>
<path d="M3650.5,1371.0 A331.5,331.5 0 0 1 3635.5,1465.6" stroke="#111" stroke-width="3" fill="none"/>
<path d="M3650.0,1371.0 L3659.0,1371.2 M3649.7,1380.6 L3654.7,1380.8 M3649.2,1390.2 L3654.2,1390.6 M3648.4,1399.8 L3653.4,1400.3 M3647.3,1409.3 L3652.2,1409.9 M3645.9,1418.8 L3650.9,1419.6 M3644.3,1428.2 L3653.1,1429.9 M3642.4,1437.6 L3647.3,1438.7 M3640.2,1447.0 L3645.0,1448.2 M3637.7,1456.2 L3642.6,1457.6 M3635.0,1465.4 L3639.8,1466.9 " stroke="#111" stroke-width="2.5" fill="none"/>
<text x="3319" y="1024" transform="rotate(91.70 3319 1367)" font-family="'Liberation Sans', sans-serif" font-weight="bold" font-size="13" fill="#111" text-anchor="middle">0%</text>
<text x="3319" y="1024" transform="rotate(100.99 3319 1367)" font-family="'Liberation Sans', sans-serif" font-weight="bold" font-size="13" fill="#111" text-anchor="middle">60%</text>
<text x="3272.0" y="1000" transform="rotate(99.00 3319 1367)" font-family="'Liberation Sans', sans-serif" font-weight="bold" font-size="15.5" fill="#ffffff" textLength="94.0" lengthAdjust="spacingAndGlyphs">LTPTQVKNRP</text>
<path d="M3631.6,1472.8 A330,330 0 0 1 3588.3,1557.7 L3580.6,1552.2 A320.5,320.5 0 0 0 3622.6,1469.8 Z" fill="#9a9a9a"/>
<path d="M3616.4,1467.7 A314,314 0 0 1 3577.9,1544.7 L3558.9,1531.7 A291,291 0 0 0 3594.6,1460.3 Z" fill="#dccb1d"/>
<path d="M3577.9,1544.7 A314,314 0 0 1 3575.3,1548.4 L3556.5,1535.2 A291,291 0 0 0 3558.9,1531.7 Z" fill="#979797"/>
<path d="M3633.0,1473.3 A331.5,331.5 0 0 1 3589.5,1558.6" stroke="#111" stroke-width="3" fill="none"/>
<path d="M3632.5,1473.1 L3641.1,1476.0 M3629.3,1482.2 L3634.0,1483.9 M3625.9,1491.1 L3630.5,1493.0 M3622.1,1499.9 L3626.7,1501.9 M3618.2,1508.7 L3622.7,1510.8 M3613.9,1517.3 L3618.4,1519.5 M3609.4,1525.8 L3617.3,1530.1 M3604.7,1534.1 L3609.0,1536.6 M3599.8,1542.3 L3604.0,1545.0 M3594.6,1550.4 L3598.7,1553.1 M3589.1,1558.3 L3593.2,1561.2 " stroke="#111" stroke-width="2.5" fill="none"/>
<text x="3319" y="1024" transform="rotate(109.70 3319 1367)" font-family="'Liberation Sans', sans-serif" font-weight="bold" font-size="13" fill="#111" text-anchor="middle">0%</text>
<text x="3319" y="1024" transform="rotate(118.99 3319 1367)" font-family="'Liberation Sans', sans-serif" font-weight="bold" font-size="13" fill="#111" text-anchor="middle">60%</text>
<text x="3272.0" y="1000" transform="rotate(117.00 3319 1367)" font-family="'Liberation Sans', sans-serif" font-weight="bold" font-size="15.5" fill="#ffffff" textLength="94.0" lengthAdjust="spacingAndGlyphs">TSISWDGLDS</text>
<path d="M3583.6,1564.2 A330,330 0 0 1 3516.2,1631.6 L3510.5,1624.0 A320.5,320.5 0 0 0 3576.0,1558.5 Z" fill="#1b3f95"/>
<path d="M3570.8,1554.7 A314,314 0 0 1 3511.7,1614.9 L3497.6,1596.7 A291,291 0 0 0 3552.3,1540.9 Z" fill="#dccb1d"/>
<path d="M3511.7,1614.9 A314,314 0 0 1 3506.7,1618.8 L3492.9,1600.3 A291,291 0 0 0 3497.6,1596.7 Z" fill="#979797"/>
<path d="M3584.8,1565.1 A331.5,331.5 0 0 1 3517.1,1632.8" stroke="#111" stroke-width="3" fill="none"/>
<path d="M3584.4,1564.8 L3591.6,1570.2 M3578.5,1572.4 L3582.5,1575.5 M3572.5,1579.9 L3576.3,1583.1 M3566.2,1587.1 L3569.9,1590.4 M3559.7,1594.2 L3563.4,1597.6 M3553.1,1601.1 L3556.6,1604.6 M3546.2,1607.7 L3552.4,1614.3 M3539.1,1614.2 L3542.4,1617.9 M3531.9,1620.5 L3535.1,1624.3 M3524.4,1626.5 L3527.5,1630.5 M3516.8,1632.4 L3519.8,1636.4 " stroke="#111" stroke-width="2.5" fill="none"/>
<text x="3319" y="1024" transform="rotate(127.70 3319 1367)" font-family="'Liberation Sans', sans-serif" font-weight="bold" font-size="13" fill="#111" text-anchor="middle">0%</text>
<text x="3319" y="1024" transform="rotate(136.99 3319 1367)" font-family="'Liberation Sans', sans-serif" font-weight="bold" font-size="13" fill="#111" text-anchor="middle">60%</text>
<text x="3272.0" y="1000" transform="rotate(135.00 3319 1367)" font-family="'Liberation Sans', sans-serif" font-weight="bold" font-size="15.5" fill="#ffffff" textLength="94.0" lengthAdjust="spacingAndGlyphs">GKLYTLVLTD</text>
<path d="M3509.7,1636.3 A330,330 0 0 1 3424.8,1679.6 L3421.8,1670.6 A320.5,320.5 0 0 0 3504.2,1628.6 Z" fill="#1b3f95"/>
<path d="M3500.4,1623.3 A314,314 0 0 1 3431.7,1660.1 L3423.4,1638.6 A291,291 0 0 0 3487.2,1604.5 Z" fill="#dccb1d"/>
<path d="M3431.7,1660.1 A314,314 0 0 1 3419.7,1664.4 L3412.3,1642.6 A291,291 0 0 0 3423.4,1638.6 Z" fill="#979797"/>
<path d="M3510.6,1637.5 A331.5,331.5 0 0 1 3425.3,1681.0" stroke="#111" stroke-width="3" fill="none"/>
<path d="M3510.3,1637.1 L3515.5,1644.5 M3502.4,1642.6 L3505.1,1646.7 M3494.3,1647.8 L3497.0,1652.0 M3486.1,1652.7 L3488.6,1657.0 M3477.8,1657.4 L3480.1,1661.8 M3469.3,1661.9 L3471.5,1666.4 M3460.7,1666.2 L3464.5,1674.3 M3451.9,1670.1 L3453.9,1674.7 M3443.1,1673.9 L3445.0,1678.5 M3434.2,1677.3 L3435.9,1682.0 M3425.1,1680.5 L3426.7,1685.3 " stroke="#111" stroke-width="2.5" fill="none"/>
<text x="3319" y="1024" transform="rotate(145.70 3319 1367)" font-family="'Liberation Sans', sans-serif" font-weight="bold" font-size="13" fill="#111" text-anchor="middle">0%</text>
<text x="3319" y="1024" transform="rotate(154.99 3319 1367)" font-family="'Liberation Sans', sans-serif" font-weight="bold" font-size="13" fill="#111" text-anchor="middle">60%</text>
<text x="3272.0" y="1000" transform="rotate(153.00 3319 1367)" font-family="'Liberation Sans', sans-serif" font-weight="bold" font-size="15.5" fill="#ffffff" textLength="94.0" lengthAdjust="spacingAndGlyphs">PDAPSRKDPK</text>
<path d="M3417.1,1682.1 A330,330 0 0 1 3323.0,1697.0 L3322.9,1687.5 A320.5,320.5 0 0 0 3414.3,1673.0 Z" fill="#1b3f95"/>
<path d="M3412.4,1666.8 A314,314 0 0 1 3401.9,1669.9 L3395.8,1647.7 A291,291 0 0 0 3405.5,1644.8 Z" fill="#979797"/>
<path d="M3401.9,1669.9 A314,314 0 0 1 3322.8,1681.0 L3322.6,1658.0 A291,291 0 0 0 3395.8,1647.7 Z" fill="#dccb1d"/>
<path d="M3417.6,1683.5 A331.5,331.5 0 0 1 3323.0,1698.5" stroke="#111" stroke-width="3" fill="none"/>
<path d="M3417.4,1683.0 L3420.1,1691.6 M3408.2,1685.7 L3409.6,1690.6 M3399.0,1688.2 L3400.2,1693.0 M3389.6,1690.4 L3390.7,1695.3 M3380.2,1692.3 L3381.2,1697.2 M3370.8,1693.9 L3371.6,1698.9 M3361.3,1695.3 L3362.4,1704.2 M3351.8,1696.4 L3352.3,1701.4 M3342.2,1697.2 L3342.6,1702.2 M3332.6,1697.7 L3332.8,1702.7 M3323.0,1698.0 L3323.1,1703.0 " stroke="#111" stroke-width="2.5" fill="none"/>
<text x="3319" y="1024" transform="rotate(163.70 3319 1367)" font-family="'Liberation Sans', sans-serif" font-weight="bold" font-size="13" fill="#111" text-anchor="middle">0%</text>
<text x="3319" y="1024" transform="rotate(172.99 3319 1367)" font-family="'Liberation Sans', sans-serif" font-weight="bold" font-size="13" fill="#111" text-anchor="middle">60%</text>
<text x="3272.0" y="1000" transform="rotate(171.00 3319 1367)" font-family="'Liberation Sans', sans-serif" font-weight="bold" font-size="15.5" fill="#ffffff" textLength="94.0" lengthAdjust="spacingAndGlyphs">YREWHHFLVV</text>
<path d="M3315.0,1697.0 A330,330 0 0 1 3220.9,1682.1 L3223.7,1673.0 A320.5,320.5 0 0 0 3315.1,1687.5 Z" fill="#9a9a9a"/>
<path d="M3236.1,1669.9 A314,314 0 0 1 3225.6,1666.8 L3232.5,1644.8 A291,291 0 0 0 3242.2,1647.7 Z" fill="#dccb1d"/>
<path d="M3315.0,1698.5 A331.5,331.5 0 0 1 3220.4,1683.5" stroke="#111" stroke-width="3" fill="none"/>
<path d="M3315.0,1698.0 L3314.8,1707.0 M3305.4,1697.7 L3305.2,1702.7 M3295.8,1697.2 L3295.4,1702.2 M3286.2,1696.4 L3285.7,1701.4 M3276.7,1695.3 L3276.1,1700.2 M3267.2,1693.9 L3266.4,1698.9 M3257.8,1692.3 L3256.1,1701.1 M3248.4,1690.4 L3247.3,1695.3 M3239.0,1688.2 L3237.8,1693.0 M3229.8,1685.7 L3228.4,1690.6 M3220.6,1683.0 L3219.1,1687.8 " stroke="#111" stroke-width="2.5" fill="none"/>
<text x="3319" y="1024" transform="rotate(181.70 3319 1367)" font-family="'Liberation Sans', sans-serif" font-weight="bold" font-size="13" fill="#111" text-anchor="middle">0%</text>
<text x="3319" y="1024" transform="rotate(190.99 3319 1367)" font-family="'Liberation Sans', sans-serif" font-weight="bold" font-size="13" fill="#111" text-anchor="middle">60%</text>
<text x="3272.0" y="1000" transform="rotate(189.00 3319 1367)" font-family="'Liberation Sans', sans-serif" font-weight="bold" font-size="15.5" fill="#ffffff" textLength="94.0" lengthAdjust="spacingAndGlyphs">NMKGNDISSG</text>
<path d="M3213.2,1679.6 A330,330 0 0 1 3128.3,1636.3 L3133.8,1628.6 A320.5,320.5 0 0 0 3216.2,1670.6 Z" fill="#1b3f95"/>
<path d="M3218.3,1664.4 A314,314 0 0 1 3205.5,1659.8 L3213.8,1638.3 A291,291 0 0 0 3225.7,1642.6 Z" fill="#979797"/>
<path d="M3205.5,1659.8 A314,314 0 0 1 3137.6,1623.3 L3150.8,1604.5 A291,291 0 0 0 3213.8,1638.3 Z" fill="#dccb1d"/>
<path d="M3212.7,1681.0 A331.5,331.5 0 0 1 3127.4,1637.5" stroke="#111" stroke-width="3" fill="none"/>
<path d="M3212.9,1680.5 L3210.0,1689.1 M3203.8,1677.3 L3202.1,1682.0 M3194.9,1673.9 L3193.0,1678.5 M3186.1,1670.1 L3184.1,1674.7 M3177.3,1666.2 L3175.2,1670.7 M3168.7,1661.9 L3166.5,1666.4 M3160.2,1657.4 L3155.9,1665.3 M3151.9,1652.7 L3149.4,1657.0 M3143.7,1647.8 L3141.0,1652.0 M3135.6,1642.6 L3132.9,1646.7 M3127.7,1637.1 L3124.8,1641.2 " stroke="#111" stroke-width="2.5" fill="none"/>
<text x="3319" y="1024" transform="rotate(199.70 3319 1367)" font-family="'Liberation Sans', sans-serif" font-weight="bold" font-size="13" fill="#111" text-anchor="middle">0%</text>
<text x="3319" y="1024" transform="rotate(208.99 3319 1367)" font-family="'Liberation Sans', sans-serif" font-weight="bold" font-size="13" fill="#111" text-anchor="middle">60%</text>
<text x="3272.0" y="1000" transform="rotate(207.00 3319 1367)" font-family="'Liberation Sans', sans-serif" font-weight="bold" font-size="15.5" fill="#ffffff" textLength="94.0" lengthAdjust="spacingAndGlyphs">TVLSDYVGSG</text>
<path d="M3121.8,1631.6 A330,330 0 0 1 3054.4,1564.2 L3062.0,1558.5 A320.5,320.5 0 0 0 3127.5,1624.0 Z" fill="#1b3f95"/>
<path d="M3131.3,1618.8 A314,314 0 0 1 3117.1,1607.5 L3131.9,1589.9 A291,291 0 0 0 3145.1,1600.3 Z" fill="#979797"/>
<path d="M3117.1,1607.5 A314,314 0 0 1 3067.2,1554.7 L3085.7,1540.9 A291,291 0 0 0 3131.9,1589.9 Z" fill="#dccb1d"/>
<path d="M3120.9,1632.8 A331.5,331.5 0 0 1 3053.2,1565.1" stroke="#111" stroke-width="3" fill="none"/>
<path d="M3121.2,1632.4 L3115.8,1639.6 M3113.6,1626.5 L3110.5,1630.5 M3106.1,1620.5 L3102.9,1624.3 M3098.9,1614.2 L3095.6,1617.9 M3091.8,1607.7 L3088.4,1611.4 M3084.9,1601.1 L3081.4,1604.6 M3078.3,1594.2 L3071.7,1600.4 M3071.8,1587.1 L3068.1,1590.4 M3065.5,1579.9 L3061.7,1583.1 M3059.5,1572.4 L3055.5,1575.5 M3053.6,1564.8 L3049.6,1567.8 " stroke="#111" stroke-width="2.5" fill="none"/>
<text x="3319" y="1024" transform="rotate(217.70 3319 1367)" font-family="'Liberation Sans', sans-serif" font-weight="bold" font-size="13" fill="#111" text-anchor="middle">0%</text>
<text x="3319" y="1024" transform="rotate(226.99 3319 1367)" font-family="'Liberation Sans', sans-serif" font-weight="bold" font-size="13" fill="#111" text-anchor="middle">60%</text>
<text x="3272.0" y="1000" transform="rotate(225.00 3319 1367)" font-family="'Liberation Sans', sans-serif" font-weight="bold" font-size="15.5" fill="#ffffff" textLength="94.0" lengthAdjust="spacingAndGlyphs">PPKGTGLHRY</text>
<path d="M3049.7,1557.7 A330,330 0 0 1 3006.4,1472.8 L3015.4,1469.8 A320.5,320.5 0 0 0 3057.4,1552.2 Z" fill="#9a9a9a"/>
<path d="M3062.7,1548.4 A314,314 0 0 1 3043.5,1517.6 L3063.7,1506.6 A291,291 0 0 0 3081.5,1535.2 Z" fill="#979797"/>
<path d="M3043.5,1517.6 A314,314 0 0 1 3021.6,1467.7 L3043.4,1460.3 A291,291 0 0 0 3063.7,1506.6 Z" fill="#dccb1d"/>
<path d="M3048.5,1558.6 A331.5,331.5 0 0 1 3005.0,1473.3" stroke="#111" stroke-width="3" fill="none"/>
<path d="M3048.9,1558.3 L3041.5,1563.5 M3043.4,1550.4 L3039.3,1553.1 M3038.2,1542.3 L3034.0,1545.0 M3033.3,1534.1 L3029.0,1536.6 M3028.6,1525.8 L3024.2,1528.1 M3024.1,1517.3 L3019.6,1519.5 M3019.8,1508.7 L3011.7,1512.5 M3015.9,1499.9 L3011.3,1501.9 M3012.1,1491.1 L3007.5,1493.0 M3008.7,1482.2 L3004.0,1483.9 M3005.5,1473.1 L3000.7,1474.7 " stroke="#111" stroke-width="2.5" fill="none"/>
<text x="3319" y="1024" transform="rotate(235.70 3319 1367)" font-family="'Liberation Sans', sans-serif" font-weight="bold" font-size="13" fill="#111" text-anchor="middle">0%</text>
<text x="3319" y="1024" transform="rotate(244.99 3319 1367)" font-family="'Liberation Sans', sans-serif" font-weight="bold" font-size="13" fill="#111" text-anchor="middle">60%</text>
<text x="3272.0" y="1000" transform="rotate(243.00 3319 1367)" font-family="'Liberation Sans', sans-serif" font-weight="bold" font-size="15.5" fill="#ffffff" textLength="94.0" lengthAdjust="spacingAndGlyphs">VWLYEGQDRP</text>
<path d="M3003.9,1465.1 A330,330 0 0 1 2989.0,1371.0 L2998.5,1370.9 A320.5,320.5 0 0 0 3013.0,1462.3 Z" fill="#9a9a9a"/>
<path d="M3019.2,1460.4 A314,314 0 0 1 3007.0,1402.6 L3029.9,1400.0 A291,291 0 0 0 3041.2,1453.5 Z" fill="#979797"/>
<path d="M3007.0,1402.6 A314,314 0 0 1 3005.0,1370.8 L3028.0,1370.6 A291,291 0 0 0 3029.9,1400.0 Z" fill="#dccb1d"/>
<path d="M3002.5,1465.6 A331.5,331.5 0 0 1 2987.5,1371.0" stroke="#111" stroke-width="3" fill="none"/>
<path d="M3003.0,1465.4 L2994.4,1468.1 M3000.3,1456.2 L2995.4,1457.6 M2997.8,1447.0 L2993.0,1448.2 M2995.6,1437.6 L2990.7,1438.7 M2993.7,1428.2 L2988.8,1429.2 M2992.1,1418.8 L2987.1,1419.6 M2990.7,1409.3 L2981.8,1410.4 M2989.6,1399.8 L2984.6,1400.3 M2988.8,1390.2 L2983.8,1390.6 M2988.3,1380.6 L2983.3,1380.8 M2988.0,1371.0 L2983.0,1371.1 " stroke="#111" stroke-width="2.5" fill="none"/>
<text x="3319" y="1024" transform="rotate(253.70 3319 1367)" font-family="'Liberation Sans', sans-serif" font-weight="bold" font-size="13" fill="#111" text-anchor="middle">0%</text>
<text x="3319" y="1024" transform="rotate(262.99 3319 1367)" font-family="'Liberation Sans', sans-serif" font-weight="bold" font-size="13" fill="#111" text-anchor="middle">60%</text>
<text x="3272.0" y="1000" transform="rotate(261.00 3319 1367)" font-family="'Liberation Sans', sans-serif" font-weight="bold" font-size="15.5" fill="#ffffff" textLength="94.0" lengthAdjust="spacingAndGlyphs">LKCDEPILSN</text>
<path d="M2989.0,1363.0 A330,330 0 0 1 3003.9,1268.9 L3013.0,1271.7 A320.5,320.5 0 0 0 2998.5,1363.1 Z" fill="#1b3f95"/>
<path d="M3005.0,1363.2 A314,314 0 0 1 3012.2,1300.0 L3034.7,1304.9 A291,291 0 0 0 3028.0,1363.4 Z" fill="#979797"/>
<path d="M3012.2,1300.0 A314,314 0 0 1 3019.2,1273.6 L3041.2,1280.5 A291,291 0 0 0 3034.7,1304.9 Z" fill="#dccb1d"/>
<path d="M2987.5,1363.0 A331.5,331.5 0 0 1 3002.5,1268.4" stroke="#111" stroke-width="3" fill="none"/>
<path d="M2988.0,1363.0 L2979.0,1362.8 M2988.3,1353.4 L2983.3,1353.2 M2988.8,1343.8 L2983.8,1343.4 M2989.6,1334.2 L2984.6,1333.7 M2990.7,1324.7 L2985.8,1324.1 M2992.1,1315.2 L2987.1,1314.4 M2993.7,1305.8 L2984.9,1304.1 M2995.6,1296.4 L2990.7,1295.3 M2997.8,1287.0 L2993.0,1285.8 M3000.3,1277.8 L2995.4,1276.4 M3003.0,1268.6 L2998.2,1267.1 " stroke="#111" stroke-width="2.5" fill="none"/>
<text x="3319" y="1024" transform="rotate(271.70 3319 1367)" font-family="'Liberation Sans', sans-serif" font-weight="bold" font-size="13" fill="#111" text-anchor="middle">0%</text>
<text x="3319" y="1024" transform="rotate(280.99 3319 1367)" font-family="'Liberation Sans', sans-serif" font-weight="bold" font-size="13" fill="#111" text-anchor="middle">60%</text>
<text x="3272.0" y="1000" transform="rotate(279.00 3319 1367)" font-family="'Liberation Sans', sans-serif" font-weight="bold" font-size="15.5" fill="#ffffff" textLength="94.0" lengthAdjust="spacingAndGlyphs">RSGDHRGKFK</text>
<path d="M3006.4,1261.2 A330,330 0 0 1 3049.7,1176.3 L3057.4,1181.8 A320.5,320.5 0 0 0 3015.4,1264.2 Z" fill="#9a9a9a"/>
<path d="M3021.6,1266.3 A314,314 0 0 1 3047.9,1208.5 L3067.8,1220.1 A291,291 0 0 0 3043.4,1273.7 Z" fill="#979797"/>
<path d="M3047.9,1208.5 A314,314 0 0 1 3062.7,1185.6 L3081.5,1198.8 A291,291 0 0 0 3067.8,1220.1 Z" fill="#dccb1d"/>
<path d="M3005.0,1260.7 A331.5,331.5 0 0 1 3048.5,1175.4" stroke="#111" stroke-width="3" fill="none"/>
<path d="M3005.5,1260.9 L2996.9,1258.0 M3008.7,1251.8 L3004.0,1250.1 M3012.1,1242.9 L3007.5,1241.0 M3015.9,1234.1 L3011.3,1232.1 M3019.8,1225.3 L3015.3,1223.2 M3024.1,1216.7 L3019.6,1214.5 M3028.6,1208.2 L3020.7,1203.9 M3033.3,1199.9 L3029.0,1197.4 M3038.2,1191.7 L3034.0,1189.0 M3043.4,1183.6 L3039.3,1180.9 M3048.9,1175.7 L3044.8,1172.8 " stroke="#111" stroke-width="2.5" fill="none"/>
<text x="3319" y="1024" transform="rotate(289.70 3319 1367)" font-family="'Liberation Sans', sans-serif" font-weight="bold" font-size="13" fill="#111" text-anchor="middle">0%</text>
<text x="3319" y="1024" transform="rotate(298.99 3319 1367)" font-family="'Liberation Sans', sans-serif" font-weight="bold" font-size="13" fill="#111" text-anchor="middle">60%</text>
<text x="3272.0" y="1000" transform="rotate(297.00 3319 1367)" font-family="'Liberation Sans', sans-serif" font-weight="bold" font-size="15.5" fill="#ffffff" textLength="94.0" lengthAdjust="spacingAndGlyphs">VASFRKKYEL</text>
<path d="M3054.4,1169.8 A330,330 0 0 1 3121.8,1102.4 L3127.5,1110.0 A320.5,320.5 0 0 0 3062.0,1175.5 Z" fill="#9a9a9a"/>
<path d="M3067.2,1179.3 A314,314 0 0 1 3103.5,1138.6 L3119.3,1155.4 A291,291 0 0 0 3085.7,1193.1 Z" fill="#979797"/>
<path d="M3103.5,1138.6 A314,314 0 0 1 3131.3,1115.2 L3145.1,1133.7 A291,291 0 0 0 3119.3,1155.4 Z" fill="#dccb1d"/>
<path d="M3053.2,1168.9 A331.5,331.5 0 0 1 3120.9,1101.2" stroke="#111" stroke-width="3" fill="none"/>
<path d="M3053.6,1169.2 L3046.4,1163.8 M3059.5,1161.6 L3055.5,1158.5 M3065.5,1154.1 L3061.7,1150.9 M3071.8,1146.9 L3068.1,1143.6 M3078.3,1139.8 L3074.6,1136.4 M3084.9,1132.9 L3081.4,1129.4 M3091.8,1126.3 L3085.6,1119.7 M3098.9,1119.8 L3095.6,1116.1 M3106.1,1113.5 L3102.9,1109.7 M3113.6,1107.5 L3110.5,1103.5 M3121.2,1101.6 L3118.2,1097.6 " stroke="#111" stroke-width="2.5" fill="none"/>
<text x="3319" y="1024" transform="rotate(307.70 3319 1367)" font-family="'Liberation Sans', sans-serif" font-weight="bold" font-size="13" fill="#111" text-anchor="middle">0%</text>
<text x="3319" y="1024" transform="rotate(316.99 3319 1367)" font-family="'Liberation Sans', sans-serif" font-weight="bold" font-size="13" fill="#111" text-anchor="middle">60%</text>
<text x="3272.0" y="1000" transform="rotate(315.00 3319 1367)" font-family="'Liberation Sans', sans-serif" font-weight="bold" font-size="15.5" fill="#ffffff" textLength="94.0" lengthAdjust="spacingAndGlyphs">RAPVAGTCYQ</text>
<path d="M3128.3,1097.7 A330,330 0 0 1 3213.2,1054.4 L3216.2,1063.4 A320.5,320.5 0 0 0 3133.8,1105.4 Z" fill="#1b3f95"/>
<path d="M3137.6,1110.7 A314,314 0 0 1 3164.4,1093.7 L3175.7,1113.7 A291,291 0 0 0 3150.8,1129.5 Z" fill="#979797"/>
<path d="M3164.4,1093.7 A314,314 0 0 1 3218.3,1069.6 L3225.7,1091.4 A291,291 0 0 0 3175.7,1113.7 Z" fill="#dccb1d"/>
<path d="M3127.4,1096.5 A331.5,331.5 0 0 1 3212.7,1053.0" stroke="#111" stroke-width="3" fill="none"/>
<path d="M3127.7,1096.9 L3122.5,1089.5 M3135.6,1091.4 L3132.9,1087.3 M3143.7,1086.2 L3141.0,1082.0 M3151.9,1081.3 L3149.4,1077.0 M3160.2,1076.6 L3157.9,1072.2 M3168.7,1072.1 L3166.5,1067.6 M3177.3,1067.8 L3173.5,1059.7 M3186.1,1063.9 L3184.1,1059.3 M3194.9,1060.1 L3193.0,1055.5 M3203.8,1056.7 L3202.1,1052.0 M3212.9,1053.5 L3211.3,1048.7 " stroke="#111" stroke-width="2.5" fill="none"/>
<text x="3319" y="1024" transform="rotate(325.70 3319 1367)" font-family="'Liberation Sans', sans-serif" font-weight="bold" font-size="13" fill="#111" text-anchor="middle">0%</text>
<text x="3319" y="1024" transform="rotate(334.99 3319 1367)" font-family="'Liberation Sans', sans-serif" font-weight="bold" font-size="13" fill="#111" text-anchor="middle">60%</text>
<text x="3272.0" y="1000" transform="rotate(333.00 3319 1367)" font-family="'Liberation Sans', sans-serif" font-weight="bold" font-size="15.5" fill="#ffffff" textLength="94.0" lengthAdjust="spacingAndGlyphs">AEWDDYVPKL</text>
<path d="M3220.9,1051.9 A330,330 0 0 1 3315.0,1037.0 L3315.1,1046.5 A320.5,320.5 0 0 0 3223.7,1061.0 Z" fill="#1b3f95"/>
<path d="M3225.6,1067.2 A314,314 0 0 1 3256.5,1059.3 L3261.0,1081.8 A291,291 0 0 0 3232.5,1089.2 Z" fill="#979797"/>
<path d="M3256.5,1059.3 A314,314 0 0 1 3315.2,1053.0 L3315.4,1076.0 A291,291 0 0 0 3261.0,1081.8 Z" fill="#dccb1d"/>
<path d="M3220.4,1050.5 A331.5,331.5 0 0 1 3315.0,1035.5" stroke="#111" stroke-width="3" fill="none"/>
<path d="M3220.6,1051.0 L3217.9,1042.4 M3229.8,1048.3 L3228.4,1043.4 M3239.0,1045.8 L3237.8,1041.0 M3248.4,1043.6 L3247.3,1038.7 M3257.8,1041.7 L3256.8,1036.8 M3267.2,1040.1 L3266.4,1035.1 M3276.7,1038.7 L3275.6,1029.8 M3286.2,1037.6 L3285.7,1032.6 M3295.8,1036.8 L3295.4,1031.8 M3305.4,1036.3 L3305.2,1031.3 M3315.0,1036.0 L3314.9,1031.0 " stroke="#111" stroke-width="2.5" fill="none"/>
<text x="3319" y="1024" transform="rotate(343.70 3319 1367)" font-family="'Liberation Sans', sans-serif" font-weight="bold" font-size="13" fill="#111" text-anchor="middle">0%</text>
<text x="3319" y="1024" transform="rotate(352.99 3319 1367)" font-family="'Liberation Sans', sans-serif" font-weight="bold" font-size="13" fill="#111" text-anchor="middle">60%</text>
<text x="3286.1" y="1000" transform="rotate(351.00 3319 1367)" font-family="'Liberation Sans', sans-serif" font-weight="bold" font-size="15.5" fill="#ffffff" textLength="65.8" lengthAdjust="spacingAndGlyphs">YEQLSGK</text>
<rect x="3517" y="1720" width="30" height="13" fill="#f0e040"/>
<text x="3556" y="1734" font-family="'Liberation Sans', sans-serif" font-weight="bold" font-size="21" fill="#ffffff">Compound token</text>
<rect x="3517" y="1749" width="30" height="13" fill="#5b8ec8"/>
<text x="3556" y="1763" font-family="'Liberation Sans', sans-serif" font-weight="bold" font-size="21" fill="#ffffff">BR</text>
<rect x="3517" y="1778" width="30" height="13" fill="#bdbdbd"/>
<text x="3556" y="1792" font-family="'Liberation Sans', sans-serif" font-weight="bold" font-size="21" fill="#ffffff">non-BR</text>
<g transform="translate(2166,1617.5) scale(1.0) translate(-2166,-1617.5)">
<path d="M2205.6,1535.6 C2210.3,1536.1 2219.2,1540.2 2225.5,1544.7 C2231.8,1549.2 2238.4,1556.0 2243.7,1562.9 C2248.9,1569.8 2254.1,1577.8 2257.0,1586.1 C2259.9,1594.4 2260.8,1603.5 2261.1,1612.6 C2261.4,1621.7 2260.9,1632.0 2258.6,1640.8 C2256.2,1649.6 2252.5,1657.9 2247.0,1665.6 C2241.5,1673.3 2234.1,1681.0 2225.5,1687.1 C2216.9,1693.2 2206.2,1698.8 2195.7,1702.0 C2185.2,1705.2 2174.2,1706.2 2162.6,1706.2 C2151.0,1706.2 2137.1,1705.2 2126.1,1702.0 C2115.1,1698.8 2104.6,1693.4 2096.3,1687.1 C2088.0,1680.8 2080.7,1672.3 2076.4,1664.0 C2072.1,1655.7 2070.6,1645.2 2070.6,1637.5 C2070.6,1629.8 2072.7,1622.4 2076.4,1617.6 C2080.1,1612.8 2086.7,1610.2 2093.0,1608.5 C2099.3,1606.8 2107.9,1606.7 2114.5,1607.7 C2121.1,1608.7 2128.5,1610.7 2132.7,1614.3 C2136.8,1617.9 2138.2,1621.5 2139.4,1629.2 C2140.7,1636.9 2137.4,1658.9 2140.2,1660.6 C2142.9,1662.2 2151.1,1643.8 2155.9,1639.1 C2160.7,1634.4 2164.2,1633.6 2169.2,1632.5 C2174.2,1631.4 2180.7,1631.7 2185.7,1632.5 C2190.7,1633.3 2194.6,1637.2 2199.0,1637.5 C2203.4,1637.8 2209.7,1639.2 2212.2,1634.2 C2214.7,1629.2 2214.7,1616.8 2213.9,1607.7 C2213.1,1598.6 2210.1,1588.3 2207.3,1579.5 C2204.5,1570.7 2199.0,1561.0 2197.3,1554.7 C2195.6,1548.4 2195.9,1544.6 2197.3,1541.4 C2198.7,1538.2 2200.9,1535.0 2205.6,1535.6 Z" fill="#009fe3"/>
<path d="M2106.2,1538.9 C2112.0,1536.1 2119.0,1534.3 2127.8,1533.1 C2136.6,1531.9 2150.4,1531.2 2159.2,1531.5 C2168.0,1531.8 2176.1,1532.9 2180.8,1534.8 C2185.5,1536.7 2185.2,1537.3 2187.4,1543.1 C2189.6,1548.9 2191.2,1559.7 2194.0,1569.6 C2196.8,1579.5 2201.5,1592.8 2204.0,1602.7 C2206.5,1612.6 2209.7,1624.5 2208.9,1629.2 C2208.1,1633.9 2203.4,1631.3 2199.0,1630.8 C2194.6,1630.2 2187.9,1626.5 2182.4,1625.9 C2176.9,1625.4 2170.3,1626.4 2165.9,1627.5 C2161.5,1628.6 2159.2,1629.7 2155.9,1632.5 C2152.6,1635.3 2148.1,1644.6 2146.0,1644.1 C2143.9,1643.5 2144.9,1634.5 2143.5,1629.2 C2142.1,1624.0 2141.1,1617.3 2137.7,1612.6 C2134.2,1607.9 2128.1,1603.5 2122.8,1601.0 C2117.6,1598.5 2111.4,1598.2 2106.2,1597.7 C2100.9,1597.2 2094.5,1600.7 2091.3,1597.7 C2088.1,1594.7 2088.0,1585.3 2087.2,1579.5 C2086.4,1573.7 2085.4,1567.9 2086.4,1562.9 C2087.4,1557.9 2089.7,1553.7 2093.0,1549.7 C2096.3,1545.7 2100.4,1541.7 2106.2,1538.9 Z" fill="#e6312b" stroke="#1f5f94" stroke-width="5"/>
</g>
<g transform="translate(2174,376) scale(0.81) translate(-2166,-1617.5)">
<path d="M2205.6,1535.6 C2210.3,1536.1 2219.2,1540.2 2225.5,1544.7 C2231.8,1549.2 2238.4,1556.0 2243.7,1562.9 C2248.9,1569.8 2254.1,1577.8 2257.0,1586.1 C2259.9,1594.4 2260.8,1603.5 2261.1,1612.6 C2261.4,1621.7 2260.9,1632.0 2258.6,1640.8 C2256.2,1649.6 2252.5,1657.9 2247.0,1665.6 C2241.5,1673.3 2234.1,1681.0 2225.5,1687.1 C2216.9,1693.2 2206.2,1698.8 2195.7,1702.0 C2185.2,1705.2 2174.2,1706.2 2162.6,1706.2 C2151.0,1706.2 2137.1,1705.2 2126.1,1702.0 C2115.1,1698.8 2104.6,1693.4 2096.3,1687.1 C2088.0,1680.8 2080.7,1672.3 2076.4,1664.0 C2072.1,1655.7 2070.6,1645.2 2070.6,1637.5 C2070.6,1629.8 2072.7,1622.4 2076.4,1617.6 C2080.1,1612.8 2086.7,1610.2 2093.0,1608.5 C2099.3,1606.8 2107.9,1606.7 2114.5,1607.7 C2121.1,1608.7 2128.5,1610.7 2132.7,1614.3 C2136.8,1617.9 2138.2,1621.5 2139.4,1629.2 C2140.7,1636.9 2137.4,1658.9 2140.2,1660.6 C2142.9,1662.2 2151.1,1643.8 2155.9,1639.1 C2160.7,1634.4 2164.2,1633.6 2169.2,1632.5 C2174.2,1631.4 2180.7,1631.7 2185.7,1632.5 C2190.7,1633.3 2194.6,1637.2 2199.0,1637.5 C2203.4,1637.8 2209.7,1639.2 2212.2,1634.2 C2214.7,1629.2 2214.7,1616.8 2213.9,1607.7 C2213.1,1598.6 2210.1,1588.3 2207.3,1579.5 C2204.5,1570.7 2199.0,1561.0 2197.3,1554.7 C2195.6,1548.4 2195.9,1544.6 2197.3,1541.4 C2198.7,1538.2 2200.9,1535.0 2205.6,1535.6 Z" fill="#009fe3"/>
<path d="M2106.2,1538.9 C2112.0,1536.1 2119.0,1534.3 2127.8,1533.1 C2136.6,1531.9 2150.4,1531.2 2159.2,1531.5 C2168.0,1531.8 2176.1,1532.9 2180.8,1534.8 C2185.5,1536.7 2185.2,1537.3 2187.4,1543.1 C2189.6,1548.9 2191.2,1559.7 2194.0,1569.6 C2196.8,1579.5 2201.5,1592.8 2204.0,1602.7 C2206.5,1612.6 2209.7,1624.5 2208.9,1629.2 C2208.1,1633.9 2203.4,1631.3 2199.0,1630.8 C2194.6,1630.2 2187.9,1626.5 2182.4,1625.9 C2176.9,1625.4 2170.3,1626.4 2165.9,1627.5 C2161.5,1628.6 2159.2,1629.7 2155.9,1632.5 C2152.6,1635.3 2148.1,1644.6 2146.0,1644.1 C2143.9,1643.5 2144.9,1634.5 2143.5,1629.2 C2142.1,1624.0 2141.1,1617.3 2137.7,1612.6 C2134.2,1607.9 2128.1,1603.5 2122.8,1601.0 C2117.6,1598.5 2111.4,1598.2 2106.2,1597.7 C2100.9,1597.2 2094.5,1600.7 2091.3,1597.7 C2088.1,1594.7 2088.0,1585.3 2087.2,1579.5 C2086.4,1573.7 2085.4,1567.9 2086.4,1562.9 C2087.4,1557.9 2089.7,1553.7 2093.0,1549.7 C2096.3,1545.7 2100.4,1541.7 2106.2,1538.9 Z" fill="#e6312b" stroke="#0d3d6e" stroke-width="5"/>
</g>
<g transform="translate(2166,1049.5) scale(1.0) translate(-2166,-1049.5)">
<path d="M2190,926 C2262,922 2262,992 2208,996 M2212,998 C2250,1010 2246,1046 2205,1047 M2128,1018 C2082,1024 2082,1074 2124,1079" stroke="#8e1f4e" stroke-width="3.2" fill="none"/>
<path d="M2200,1116 C2232,1125 2232,1172 2190,1180 C2140,1188 2090,1165 2085,1120 C2082,1090 2100,1075 2118,1070" stroke="#c9234b" stroke-width="3.2" fill="none"/>
<path d="M2152,1173 C2180,1172 2205,1160 2215,1140" stroke="#1565c0" stroke-width="3.2" fill="none"/>
<ellipse cx="2177.1" cy="926" rx="19.8" ry="10" fill="#a0173a"/>
<ellipse cx="2187.3" cy="983" rx="30.0" ry="11" fill="#a0173a"/>
<ellipse cx="2187.3" cy="1035" rx="30.0" ry="11" fill="#a0173a"/>
<ellipse cx="2187.3" cy="1087" rx="30.0" ry="11" fill="#a0173a"/>
<path d="M2157.3,934 C2187.3,934 2205.3,941.8 2217.3,962.6 L2217.3,978.2 C2205.3,958.96 2187.3,952.72 2157.3,952.72 Z" fill="#f37ea0"/>
<path d="M2157.3,986 C2187.3,986 2205.3,993.8 2217.3,1014.6 L2217.3,1030.2 C2205.3,1010.96 2187.3,1004.72 2157.3,1004.72 Z" fill="#f37ea0"/>
<path d="M2157.3,1038 C2187.3,1038 2205.3,1045.8 2217.3,1066.6 L2217.3,1082.2 C2205.3,1062.96 2187.3,1056.72 2157.3,1056.72 Z" fill="#f37ea0"/>
<path d="M2157.3,1090 C2187.3,1090 2199.3,1095.2 2199.3,1105.6 L2198.1000000000004,1122.24 C2184.3,1125.36 2169.3,1122.24 2157.3,1118.6 Z" fill="#f37ea0"/>
<ellipse cx="2130.5" cy="981" rx="19.8" ry="10" fill="#13336b"/>
<ellipse cx="2140.7" cy="1036" rx="30.0" ry="11" fill="#13336b"/>
<ellipse cx="2140.7" cy="1088" rx="30.0" ry="11" fill="#13336b"/>
<ellipse cx="2140.7" cy="1140" rx="30.0" ry="11" fill="#13336b"/>
<path d="M2110.7,989 C2140.7,989 2158.7,996.8 2170.7,1017.6 L2170.7,1033.2 C2158.7,1013.96 2140.7,1007.72 2110.7,1007.72 Z" fill="#74c5f9"/>
<path d="M2110.7,1041 C2140.7,1041 2158.7,1048.8 2170.7,1069.6 L2170.7,1085.2 C2158.7,1065.96 2140.7,1059.72 2110.7,1059.72 Z" fill="#74c5f9"/>
<path d="M2110.7,1093 C2140.7,1093 2158.7,1100.8 2170.7,1121.6 L2170.7,1137.2 C2158.7,1117.96 2140.7,1111.72 2110.7,1111.72 Z" fill="#74c5f9"/>
<path d="M2110.7,1145 C2140.7,1145 2152.7,1150.2 2152.7,1160.6 L2151.5,1177.24 C2137.7,1180.36 2122.7,1177.24 2110.7,1173.6 Z" fill="#74c5f9"/>
</g>
<g transform="translate(3321,267) scale(0.64) translate(-2166,-1049.5)">
<path d="M2190,926 C2262,922 2262,992 2208,996 M2212,998 C2250,1010 2246,1046 2205,1047 M2128,1018 C2082,1024 2082,1074 2124,1079" stroke="#8e1f4e" stroke-width="3.2" fill="none"/>
<path d="M2200,1116 C2232,1125 2232,1172 2190,1180 C2140,1188 2090,1165 2085,1120 C2082,1090 2100,1075 2118,1070" stroke="#c9234b" stroke-width="3.2" fill="none"/>
<path d="M2152,1173 C2180,1172 2205,1160 2215,1140" stroke="#1565c0" stroke-width="3.2" fill="none"/>
<ellipse cx="2177.1" cy="926" rx="19.8" ry="10" fill="#a0173a"/>
<ellipse cx="2187.3" cy="983" rx="30.0" ry="11" fill="#a0173a"/>
<ellipse cx="2187.3" cy="1035" rx="30.0" ry="11" fill="#a0173a"/>
<ellipse cx="2187.3" cy="1087" rx="30.0" ry="11" fill="#a0173a"/>
<path d="M2157.3,934 C2187.3,934 2205.3,941.8 2217.3,962.6 L2217.3,978.2 C2205.3,958.96 2187.3,952.72 2157.3,952.72 Z" fill="#f37ea0"/>
<path d="M2157.3,986 C2187.3,986 2205.3,993.8 2217.3,1014.6 L2217.3,1030.2 C2205.3,1010.96 2187.3,1004.72 2157.3,1004.72 Z" fill="#f37ea0"/>
<path d="M2157.3,1038 C2187.3,1038 2205.3,1045.8 2217.3,1066.6 L2217.3,1082.2 C2205.3,1062.96 2187.3,1056.72 2157.3,1056.72 Z" fill="#f37ea0"/>
<path d="M2157.3,1090 C2187.3,1090 2199.3,1095.2 2199.3,1105.6 L2198.1000000000004,1122.24 C2184.3,1125.36 2169.3,1122.24 2157.3,1118.6 Z" fill="#f37ea0"/>
<ellipse cx="2130.5" cy="981" rx="19.8" ry="10" fill="#13336b"/>
<ellipse cx="2140.7" cy="1036" rx="30.0" ry="11" fill="#13336b"/>
<ellipse cx="2140.7" cy="1088" rx="30.0" ry="11" fill="#13336b"/>
<ellipse cx="2140.7" cy="1140" rx="30.0" ry="11" fill="#13336b"/>
<path d="M2110.7,989 C2140.7,989 2158.7,996.8 2170.7,1017.6 L2170.7,1033.2 C2158.7,1013.96 2140.7,1007.72 2110.7,1007.72 Z" fill="#74c5f9"/>
<path d="M2110.7,1041 C2140.7,1041 2158.7,1048.8 2170.7,1069.6 L2170.7,1085.2 C2158.7,1065.96 2140.7,1059.72 2110.7,1059.72 Z" fill="#74c5f9"/>
<path d="M2110.7,1093 C2140.7,1093 2158.7,1100.8 2170.7,1121.6 L2170.7,1137.2 C2158.7,1117.96 2140.7,1111.72 2110.7,1111.72 Z" fill="#74c5f9"/>
<path d="M2110.7,1145 C2140.7,1145 2152.7,1150.2 2152.7,1160.6 L2151.5,1177.24 C2137.7,1180.36 2122.7,1177.24 2110.7,1173.6 Z" fill="#74c5f9"/>
</g>
<rect x="4458" y="283" width="85" height="186" rx="42.5" fill="#072a50"/>
<clipPath id="spill"><rect x="4453" y="279" width="85" height="186" rx="42.5"/></clipPath>
<g clip-path="url(#spill)">
<rect x="4453" y="279" width="85" height="93.5" fill="#d4d4d4"/>
<rect x="4471" y="279" width="85" height="133.5" rx="34.5" fill="#ffffff"/>
<rect x="4453" y="372.5" width="85" height="92.5" fill="#c30000"/>
<rect x="4471" y="372.5" width="67" height="92.5" fill="#f20000"/>
</g>
<circle cx="4501" cy="410" r="25" fill="#fff"/>
<circle cx="4501" cy="410" r="21" fill="#f20000"/>
<circle cx="4501" cy="410" r="16.5" fill="#fff"/>
<circle cx="4501" cy="410" r="12.5" fill="#f20000"/>
<circle cx="4501" cy="410" r="8" fill="#fff"/>
<line x1="4498" y1="413" x2="4474" y2="437" stroke="#fff" stroke-width="4.5" stroke-linecap="round"/>
<polygon points="4466,430 4474,428 4478,440 4471,444" fill="#fff"/>
<polygon points="4470,446 4482,442 4480,452 4472,454" fill="#fff"/>
<g transform="rotate(20 3275 543)"><path d="M3310,515 L3262,515 A28,28 0 0 0 3262,571 L3310,571 Z" fill="#b94a3c"/><path d="M3304,515 L3262,515 A28,28 0 0 0 3262,571 L3304,571 Z" fill="#ec5f4f"/></g>
<g transform="rotate(-18 3368 540)"><path d="M3332,512 L3378,512 A28,28 0 0 1 3378,568 L3332,568 Z" fill="#d8b45c"/><path d="M3338,512 L3378,512 A27,26 0 0 1 3378,564 L3338,564 Z" fill="#f7d580"/></g>
<circle cx="3334" cy="593" r="5" fill="#ffffff"/>
<circle cx="3335" cy="594" r="1.5" fill="#2a8a6a"/>
<circle cx="3292" cy="569" r="2.5" fill="#ffffff"/>
<circle cx="3335" cy="606" r="2" fill="#ffffff"/>
<circle cx="3316" cy="604" r="4" fill="#ffffff"/>
<circle cx="3317" cy="605" r="1.5" fill="#2a8a6a"/>
<circle cx="3328" cy="578" r="2" fill="#ffffff"/>
<circle cx="3341" cy="564" r="2.5" fill="#ffffff"/>
<circle cx="3301" cy="597" r="2.5" fill="#ffffff"/>
<circle cx="3333" cy="567" r="2.5" fill="#ffffff"/>
<circle cx="3305" cy="547" r="2.5" fill="#ffffff"/>
<circle cx="3351" cy="553" r="2.5" fill="#ffffff"/>
<circle cx="3328" cy="587" r="2.5" fill="#ffffff"/>
<circle cx="3303" cy="612" r="2.5" fill="#ffffff"/>
<circle cx="3311" cy="559" r="2.5" fill="#ffffff"/>
<circle cx="3356" cy="551" r="3" fill="#ffffff"/>
<circle cx="3311" cy="580" r="2" fill="#ffffff"/>
<circle cx="3332" cy="590" r="2" fill="#ffffff"/>
<circle cx="3312" cy="599" r="4" fill="#ffffff"/>
<circle cx="3313" cy="600" r="1.5" fill="#2a8a6a"/>
<circle cx="3339" cy="544" r="4" fill="#ffffff"/>
<circle cx="3340" cy="545" r="1.5" fill="#2a8a6a"/>
<circle cx="3339" cy="533" r="2" fill="#ffffff"/>
<circle cx="3356" cy="559" r="4" fill="#ffffff"/>
<circle cx="3357" cy="560" r="1.5" fill="#2a8a6a"/>
<circle cx="3316" cy="578" r="2" fill="#ffffff"/>
<circle cx="3322" cy="590" r="5" fill="#ffffff"/>
<circle cx="3323" cy="591" r="1.5" fill="#2a8a6a"/>
<circle cx="3357" cy="545" r="2.5" fill="#ffffff"/>
<circle cx="3314" cy="559" r="5" fill="#ffffff"/>
<circle cx="3315" cy="560" r="1.5" fill="#2a8a6a"/>
<circle cx="3308" cy="568" r="5" fill="#ffffff"/>
<circle cx="3309" cy="569" r="1.5" fill="#2a8a6a"/>
<circle cx="3342" cy="597" r="3" fill="#ffffff"/>
<circle cx="3296" cy="558" r="5" fill="#ffffff"/>
<circle cx="3297" cy="559" r="1.5" fill="#2a8a6a"/>
<circle cx="3315" cy="541" r="3" fill="#ffffff"/>
<circle cx="3355" cy="575" r="3" fill="#ffffff"/>
<circle cx="3338" cy="555" r="2" fill="#ffffff"/>
<circle cx="3334" cy="591" r="3" fill="#ffffff"/>
<circle cx="3360" cy="542" r="2" fill="#ffffff"/>
<circle cx="3355" cy="531" r="5" fill="#ffffff"/>
<circle cx="3356" cy="532" r="1.5" fill="#2a8a6a"/>
<circle cx="3314" cy="550" r="4" fill="#ffffff"/>
<circle cx="3315" cy="551" r="1.5" fill="#2a8a6a"/>
<circle cx="3300" cy="613" r="2" fill="#ffffff"/>
<circle cx="3346" cy="557" r="2.5" fill="#ffffff"/>
<path d="M4327,1093 L4327,1133 A62.0,14 0 0 0 4451,1133 L4451,1093 Z" fill="#0b6fc0"/>
<ellipse cx="4389.0" cy="1093" rx="62.0" ry="14" fill="#0b3a66"/>
<path d="M4327,1048 L4327,1088 A62.0,14 0 0 0 4451,1088 L4451,1048 Z" fill="#0b6fc0"/>
<ellipse cx="4389.0" cy="1048" rx="62.0" ry="14" fill="#0b3a66"/>
<path d="M4327,1003 L4327,1043 A62.0,14 0 0 0 4451,1043 L4451,1003 Z" fill="#0b6fc0"/>
<ellipse cx="4389.0" cy="1003" rx="62.0" ry="14" fill="#0b3a66"/>
<path d="M4327,958 L4327,998 A62.0,14 0 0 0 4451,998 L4451,958 Z" fill="#0b6fc0"/>
<ellipse cx="4389.0" cy="958" rx="62.0" ry="14" fill="#0b3a66"/>
<ellipse cx="4389.0" cy="956" rx="59.0" ry="14" fill="#0b3a66"/>
<circle cx="4343" cy="983.0" r="3.6" fill="#ffffff"/>
<circle cx="4354" cy="984.5" r="3.6" fill="#ffffff"/>
<circle cx="4365" cy="986.0" r="3.6" fill="#ffffff"/>
<circle cx="4343" cy="1028.0" r="3.6" fill="#ffffff"/>
<circle cx="4354" cy="1029.5" r="3.6" fill="#ffffff"/>
<circle cx="4365" cy="1031.0" r="3.6" fill="#ffffff"/>
<circle cx="4343" cy="1073.0" r="3.6" fill="#ffffff"/>
<circle cx="4354" cy="1074.5" r="3.6" fill="#ffffff"/>
<circle cx="4365" cy="1076.0" r="3.6" fill="#ffffff"/>
<circle cx="4343" cy="1118.0" r="3.6" fill="#ffffff"/>
<circle cx="4354" cy="1119.5" r="3.6" fill="#ffffff"/>
<circle cx="4365" cy="1121.0" r="3.6" fill="#ffffff"/>
<g transform="rotate(-38 4515 1036)"><rect x="4452" y="1012" width="126" height="50" rx="25" fill="#d9d9d9"/><rect x="4452" y="1012" width="124" height="45" rx="22.5" fill="#ffffff"/><path d="M4477,1012 L4515,1012 L4515,1062 L4477,1062 A25,25 0 0 1 4477,1012 Z" fill="#2db894"/></g>
<rect x="4464" y="1051" width="132" height="60" rx="30" fill="#d5a31f"/>
<path d="M4494,1051 L4530,1051 L4530,1104 L4494,1104 A28,26.5 0 0 1 4494,1051 Z" fill="#f8c630"/>
<path d="M4530,1051 L4566,1051 A30,30 0 0 1 4566,1111 L4530,1111 Z" fill="#c4241b"/>
<path d="M4530,1051 L4566,1051 A29,26.5 0 0 1 4566,1104 L4530,1104 Z" fill="#ea3125"/>
<path d="M4343,1504 L4343,1528 L4370,1565 L4418,1565 M4393,1440 L4503,1440 L4557,1491 L4557,1540 M4393,1440 L4355,1475 M4463,1591 L4513,1591 L4542,1564 L4542,1545 M4488,1600 L4475,1614 L4475,1650 M4442,1578 L4470,1605 L4470,1628" stroke="#f6c32c" stroke-width="7" fill="none" stroke-linejoin="round"/>
<path d="M4402,1458 L4430,1488 L4468,1493 M4436,1462 L4483,1462 L4514,1494 M4385,1497 L4405,1522 M4417,1519 L4440,1505 M4361,1520 L4382,1541 L4432,1541 L4443,1525 M4493,1481 L4490,1520 L4452,1560 M4483,1560 L4523,1515 M4459,1590 L4488,1570 L4512,1570" stroke="#f6c32c" stroke-width="7" fill="none" stroke-linejoin="round"/>
<circle cx="4343" cy="1504" r="11" fill="#f6c32c"/>
<circle cx="4355" cy="1475" r="11" fill="#f6c32c"/>
<circle cx="4402" cy="1458" r="10" fill="#f6c32c"/>
<circle cx="4436" cy="1462" r="11" fill="#f6c32c"/>
<circle cx="4385" cy="1497" r="10" fill="#f6c32c"/>
<circle cx="4468" cy="1493" r="11" fill="#f6c32c"/>
<circle cx="4493" cy="1481" r="10" fill="#f6c32c"/>
<circle cx="4417" cy="1519" r="10" fill="#f6c32c"/>
<circle cx="4361" cy="1520" r="10" fill="#f6c32c"/>
<circle cx="4443" cy="1525" r="10" fill="#f6c32c"/>
<circle cx="4523" cy="1515" r="11" fill="#f6c32c"/>
<circle cx="4514" cy="1494" r="10" fill="#f6c32c"/>
<circle cx="4452" cy="1560" r="10" fill="#f6c32c"/>
<circle cx="4418" cy="1565" r="11" fill="#f6c32c"/>
<circle cx="4442" cy="1578" r="10" fill="#f6c32c"/>
<circle cx="4483" cy="1560" r="10" fill="#f6c32c"/>
<circle cx="4459" cy="1590" r="10" fill="#f6c32c"/>
<circle cx="4542" cy="1545" r="11" fill="#f6c32c"/>
<circle cx="4512" cy="1570" r="10" fill="#f6c32c"/>
<circle cx="4542" cy="1570" r="10" fill="#f6c32c"/>
<circle cx="4470" cy="1628" r="10" fill="#f6c32c"/>
<circle cx="4488" cy="1650" r="11" fill="#f6c32c"/>
</svg>
</body></html>
